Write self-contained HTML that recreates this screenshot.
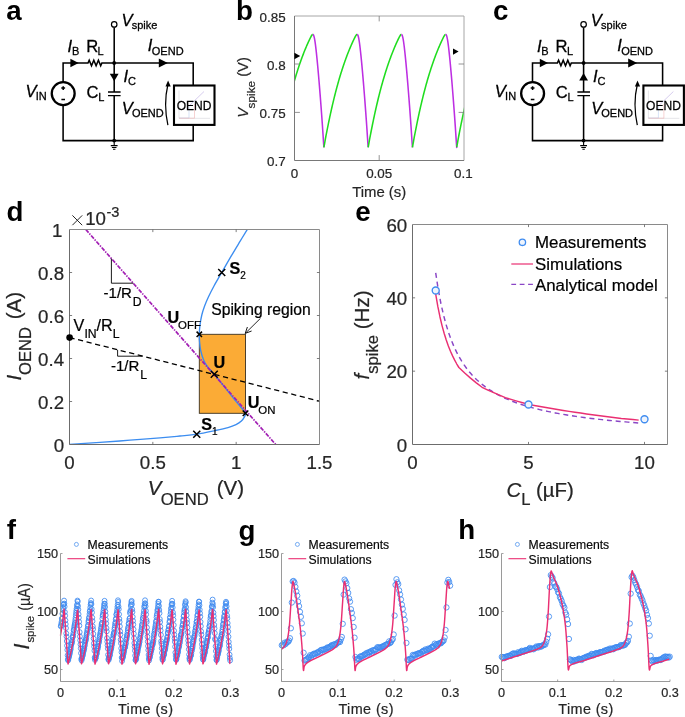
<!DOCTYPE html>
<html><head><meta charset="utf-8"><title>figure</title>
<style>html,body{margin:0;padding:0;background:#fff;}svg{display:block;will-change:transform;}body{font-family:"Liberation Sans",sans-serif;}</style>
</head><body>
<svg width="685" height="717" viewBox="0 0 685 717">
<rect width="685" height="717" fill="#fff"/>
<text x="6.2" y="20" font-family="Liberation Sans, sans-serif" font-size="27.7" font-weight="bold" fill="#000">a</text>
<text x="236" y="19.6" font-family="Liberation Sans, sans-serif" font-size="27.7" font-weight="bold" fill="#000">b</text>
<text x="493" y="20.4" font-family="Liberation Sans, sans-serif" font-size="27.7" font-weight="bold" fill="#000">c</text>
<text x="6.6" y="220.6" font-family="Liberation Sans, sans-serif" font-size="27.7" font-weight="bold" fill="#000">d</text>
<text x="355.2" y="221.2" font-family="Liberation Sans, sans-serif" font-size="27.7" font-weight="bold" fill="#000">e</text>
<text x="6.8" y="539.4" font-family="Liberation Sans, sans-serif" font-size="27.7" font-weight="bold" fill="#000">f</text>
<text x="238.6" y="539.8" font-family="Liberation Sans, sans-serif" font-size="27.7" font-weight="bold" fill="#000">g</text>
<text x="458.2" y="539.4" font-family="Liberation Sans, sans-serif" font-size="27.7" font-weight="bold" fill="#000">h</text>
<g transform="translate(0,0)" stroke="#000" fill="none" stroke-width="1.55" stroke-linejoin="miter">
<path d="M63.1,82 V63 H88 l1.2,-2.8 l2.3,5.6 l2.3,-5.6 l2.3,5.6 l2.3,-5.6 l2.3,5.6 l1.2,-2.8 H193.2 V85.5 M193.2,125 V140.6 H63.1 V105"/>
<path d="M114.2,27.2 V92 M114.2,95.7 V140.6"/>
<path d="M108,92 H120.6 M108,95.7 H120.6" stroke-width="1.3"/>
<circle cx="114.2" cy="63" r="1.9" fill="#000" stroke="none"/>
<circle cx="114.2" cy="140.6" r="1.9" fill="#000" stroke="none"/>
<circle cx="114.2" cy="24.4" r="2.75" fill="#fff" stroke-width="1.2"/>
<path d="M114.2,140.6 V145.4 M110.8,145.6 H117.6 M111.9,147.5 H116.5 M113,149.2 H115.4" stroke-width="1.1"/>
<circle cx="63.2" cy="93.6" r="11.45" stroke-width="2.3" fill="#fff"/>
<path d="M61.3,88.1 H65.1 M63.2,86.2 V90 M61.4,99.4 H65" stroke-width="1.5"/>
<path d="M70.4,58.8 L78.6,63 L70.4,67.2 Z" fill="#000" stroke="none"/>
<path d="M158.8,58.6 L167.8,63 L158.8,67.4 Z" fill="#000" stroke="none"/>
<path d="M109.8,73.8 L118.6,73.8 L114.2,81.2 Z" fill="#000" stroke="none"/>
<rect x="174" y="85.5" width="40.5" height="39.4" stroke-width="2.1" fill="#fff"/>
<path d="M179,90.5 V118.3 H210" stroke="#d4d4d8" stroke-width="0.6"/>
<path d="M179,118 H189 V106" stroke="#bcd0f2" stroke-width="0.6"/>
<path d="M179,118.2 H194.5 V104" stroke="#f0b4b4" stroke-width="0.6"/>
<path d="M189,106 L204,91.5" stroke="#c4b6e6" stroke-width="0.7"/>
<path d="M167.9,125.2 Q163.3,104 167.9,84.5" stroke-width="1.25"/>
<path d="M165.5,86.4 L168.1,80.6 L170.7,86.4 Z" fill="#000" stroke="none"/>
</g>
<g transform="translate(0,0)" font-family="Liberation Sans, sans-serif" fill="#000" stroke="#000" stroke-width="0.28">
<text x="121.4" y="26" font-size="16.6"><tspan font-style="italic">V</tspan><tspan font-size="11" dy="3.2" dx="-0.8">spike</tspan></text>
<text x="67.6" y="52.2" font-size="16.6"><tspan font-style="italic">I</tspan><tspan font-size="11" dy="3.2" dx="-0.3">B</tspan></text>
<text x="86.2" y="52.2" font-size="16.6"><tspan>R</tspan><tspan font-size="11" dy="3.2" dx="-0.6">L</tspan></text>
<text x="147.8" y="51.4" font-size="16.6"><tspan font-style="italic">I</tspan><tspan font-size="11" dy="3.2" dx="-0.6">OEND</tspan></text>
<text x="123.6" y="81.8" font-size="16.6"><tspan font-style="italic">I</tspan><tspan font-size="11" dy="3.2" dx="-0.2">C</tspan></text>
<text x="25.4" y="96.8" font-size="16.6"><tspan font-style="italic">V</tspan><tspan font-size="11" dy="3.2" dx="-0.8">IN</tspan></text>
<text x="86.4" y="97.6" font-size="16.6"><tspan>C</tspan><tspan font-size="11" dy="3.6" dx="-0.2">L</tspan></text>
<text x="121.8" y="114" font-size="16.6"><tspan font-style="italic">V</tspan><tspan font-size="11" dy="3.2" dx="-1">OEND</tspan></text>
<text x="194.1" y="109.7" font-size="13" text-anchor="middle" textLength="34.8" lengthAdjust="spacingAndGlyphs">OEND</text>
</g>
<g transform="translate(469.4,0)" stroke="#000" fill="none" stroke-width="1.55" stroke-linejoin="miter">
<path d="M63.1,82 V63 H88 l1.2,-2.8 l2.3,5.6 l2.3,-5.6 l2.3,5.6 l2.3,-5.6 l2.3,5.6 l1.2,-2.8 H193.2 V85.5 M193.2,125 V140.6 H63.1 V105"/>
<path d="M114.2,27.2 V92 M114.2,95.7 V140.6"/>
<path d="M108,92 H120.6 M108,95.7 H120.6" stroke-width="1.3"/>
<circle cx="114.2" cy="63" r="1.9" fill="#000" stroke="none"/>
<circle cx="114.2" cy="140.6" r="1.9" fill="#000" stroke="none"/>
<circle cx="114.2" cy="24.4" r="2.75" fill="#fff" stroke-width="1.2"/>
<path d="M114.2,140.6 V145.4 M110.8,145.6 H117.6 M111.9,147.5 H116.5 M113,149.2 H115.4" stroke-width="1.1"/>
<circle cx="63.2" cy="93.6" r="11.45" stroke-width="2.3" fill="#fff"/>
<path d="M61.3,88.1 H65.1 M63.2,86.2 V90 M61.4,99.4 H65" stroke-width="1.5"/>
<path d="M70.4,58.8 L78.6,63 L70.4,67.2 Z" fill="#000" stroke="none"/>
<path d="M158.8,58.6 L167.8,63 L158.8,67.4 Z" fill="#000" stroke="none"/>
<path d="M109.8,80.6 L118.6,80.6 L114.2,73 Z" fill="#000" stroke="none"/>
<rect x="174" y="85.5" width="40.5" height="39.4" stroke-width="2.1" fill="#fff"/>
<path d="M179,90.5 V118.3 H210" stroke="#d4d4d8" stroke-width="0.6"/>
<path d="M179,118 H189 V106" stroke="#bcd0f2" stroke-width="0.6"/>
<path d="M179,118.2 H194.5 V104" stroke="#f0b4b4" stroke-width="0.6"/>
<path d="M189,106 L204,91.5" stroke="#c4b6e6" stroke-width="0.7"/>
<path d="M167.9,125.2 Q163.3,104 167.9,84.5" stroke-width="1.25"/>
<path d="M165.5,86.4 L168.1,80.6 L170.7,86.4 Z" fill="#000" stroke="none"/>
</g>
<g transform="translate(469.4,0)" font-family="Liberation Sans, sans-serif" fill="#000" stroke="#000" stroke-width="0.28">
<text x="121.4" y="26" font-size="16.6"><tspan font-style="italic">V</tspan><tspan font-size="11" dy="3.2" dx="-0.8">spike</tspan></text>
<text x="67.6" y="52.2" font-size="16.6"><tspan font-style="italic">I</tspan><tspan font-size="11" dy="3.2" dx="-0.3">B</tspan></text>
<text x="86.2" y="52.2" font-size="16.6"><tspan>R</tspan><tspan font-size="11" dy="3.2" dx="-0.6">L</tspan></text>
<text x="147.8" y="51.4" font-size="16.6"><tspan font-style="italic">I</tspan><tspan font-size="11" dy="3.2" dx="-0.6">OEND</tspan></text>
<text x="123.6" y="81.8" font-size="16.6"><tspan font-style="italic">I</tspan><tspan font-size="11" dy="3.2" dx="-0.2">C</tspan></text>
<text x="25.4" y="96.8" font-size="16.6"><tspan font-style="italic">V</tspan><tspan font-size="11" dy="3.2" dx="-0.8">IN</tspan></text>
<text x="86.4" y="97.6" font-size="16.6"><tspan>C</tspan><tspan font-size="11" dy="3.6" dx="-0.2">L</tspan></text>
<text x="121.8" y="114" font-size="16.6"><tspan font-style="italic">V</tspan><tspan font-size="11" dy="3.2" dx="-1">OEND</tspan></text>
<text x="194.1" y="109.7" font-size="13" text-anchor="middle" textLength="34.8" lengthAdjust="spacingAndGlyphs">OEND</text>
</g>
<g fill="none">
<clipPath id="cb"><rect x="294.5" y="16" width="169.5" height="144.5"/></clipPath>
<g clip-path="url(#cb)" stroke-width="1.55" stroke-linejoin="round" stroke-linecap="butt">
<path d="M282.5,89.11 L282.8,90.5 L283.1,93.79 L283.4,98.2 L283.7,103.65 L284,109.28 L284.3,113.11 L284.6,115.37 L284.9,116.41 L285.1,116.57" stroke="#bd2ee2"/>
<path d="M285.1,116.57 L285.4,116.25 L285.7,115.48 L286,114.42 L286.3,113.22 L286.6,111.93 L286.9,110.62 L287.2,109.3 L287.5,107.98 L287.8,106.67 L288.1,105.37 L288.4,104.08 L288.7,102.81 L289,101.55 L289.3,100.3 L289.6,99.07 L289.9,97.84 L290.2,96.63 L290.5,95.44 L290.8,94.25 L291.1,93.08 L291.4,91.91 L291.7,90.76 L292,89.62 L292.3,88.5 L292.6,87.38 L292.9,86.27 L293.2,85.18 L293.5,84.1 L293.8,83.02 L294.1,81.96 L294.4,80.91 L294.7,79.87 L295,78.84 L295.3,77.82 L295.6,76.81 L295.9,75.81 L296.2,74.82 L296.5,73.85 L296.8,72.88 L297.1,71.92 L297.4,70.97 L297.7,70.03 L298,69.1 L298.3,68.17 L298.6,67.26 L298.9,66.36 L299.2,65.46 L299.5,64.58 L299.8,63.7 L300.1,62.83 L300.4,61.98 L300.7,61.13 L301,60.28 L301.3,59.45 L301.6,58.63 L301.9,57.81 L302.2,57 L302.5,56.2 L302.8,55.41 L303.1,54.62 L303.4,53.85 L303.7,53.08 L304,52.32 L304.3,51.56 L304.6,50.82 L304.9,50.08 L305.2,49.35 L305.5,48.63 L305.8,47.91 L306.1,47.2 L306.4,46.5 L306.7,45.8 L307,45.12 L307.3,44.43 L307.6,43.76 L307.9,43.09 L308.2,42.43 L308.5,41.78 L308.8,41.13 L309.1,40.49 L309.4,39.86 L309.7,39.23 L310,38.61 L310.3,38 L310.6,37.4 L310.9,36.81 L311.2,36.25 L311.5,35.73 L311.8,35.25 L312.1,34.86 L312.4,34.57 L312.7,34.43 L312.8,34.42" stroke="#1fdd1f"/>
<path d="M312.8,34.42 L313.1,34.53 L313.4,34.88 L313.7,35.5 L314,36.41 L314.3,37.61 L314.6,39.11 L314.9,40.89 L315.2,42.92 L315.5,45.16 L315.8,47.6 L316.1,50.2 L316.4,52.94 L316.7,55.8 L317,58.76 L317.3,61.83 L317.6,64.99 L317.9,68.24 L318.2,71.56 L318.5,74.97 L318.8,78.46 L319.1,82.03 L319.4,85.67 L319.7,89.38 L320,93.14 L320.3,96.93 L320.6,100.79 L320.9,104.7 L321.2,108.68 L321.5,112.71 L321.8,116.8 L322.1,120.97 L322.4,125.25 L322.7,129.7 L323,134.28 L323.3,138.82 L323.6,143.41 L323.9,147.43" stroke="#bd2ee2"/>
<path d="M323.9,147.43 L324.2,145.72 L324.5,144.03 L324.8,142.36 L325.1,140.54 L325.4,138.84 L325.7,137.24 L326,135.7 L326.3,134.18 L326.6,132.66 L326.9,131.15 L327.2,129.64 L327.5,128.13 L327.8,126.64 L328.1,125.15 L328.4,123.66 L328.7,122.19 L329,120.74 L329.3,119.3 L329.6,117.87 L329.9,116.46 L330.2,115.06 L330.5,113.68 L330.8,112.31 L331.1,110.96 L331.4,109.61 L331.7,108.29 L332,106.97 L332.3,105.67 L332.6,104.38 L332.9,103.11 L333.2,101.84 L333.5,100.59 L333.8,99.35 L334.1,98.13 L334.4,96.92 L334.7,95.71 L335,94.53 L335.3,93.35 L335.6,92.18 L335.9,91.03 L336.2,89.89 L336.5,88.76 L336.8,87.64 L337.1,86.53 L337.4,85.43 L337.7,84.35 L338,83.27 L338.3,82.21 L338.6,81.16 L338.9,80.11 L339.2,79.08 L339.5,78.06 L339.8,77.05 L340.1,76.05 L340.4,75.05 L340.7,74.07 L341,73.1 L341.3,72.14 L341.6,71.19 L341.9,70.24 L342.2,69.31 L342.5,68.39 L342.8,67.47 L343.1,66.57 L343.4,65.67 L343.7,64.78 L344,63.91 L344.3,63.04 L344.6,62.18 L344.9,61.32 L345.2,60.48 L345.5,59.64 L345.8,58.82 L346.1,58 L346.4,57.19 L346.7,56.39 L347,55.59 L347.3,54.81 L347.6,54.03 L347.9,53.26 L348.2,52.49 L348.5,51.74 L348.8,50.99 L349.1,50.25 L349.4,49.52 L349.7,48.79 L350,48.08 L350.3,47.37 L350.6,46.66 L350.9,45.97 L351.2,45.28 L351.5,44.59 L351.8,43.92 L352.1,43.25 L352.4,42.59 L352.7,41.93 L353,41.28 L353.3,40.64 L353.6,40 L353.9,39.37 L354.2,38.75 L354.5,38.14 L354.8,37.54 L355.1,36.95 L355.4,36.38 L355.7,35.84 L356,35.36 L356.3,34.94 L356.6,34.62 L356.9,34.44 L357.1,34.42" stroke="#1fdd1f"/>
<path d="M357.1,34.42 L357.4,34.55 L357.7,34.93 L358,35.58 L358.3,36.52 L358.6,37.75 L358.9,39.28 L359.2,41.08 L359.5,43.13 L359.8,45.4 L360.1,47.85 L360.4,50.47 L360.7,53.22 L361,56.09 L361.3,59.07 L361.6,62.14 L361.9,65.31 L362.2,68.56 L362.5,71.9 L362.8,75.32 L363.1,78.81 L363.4,82.39 L363.7,86.03 L364,89.76 L364.3,93.51 L364.6,97.31 L364.9,101.17 L365.2,105.1 L365.5,109.08 L365.8,113.12 L366.1,117.22 L366.4,121.39 L366.7,125.69 L367,130.16 L367.3,134.74 L367.6,139.27 L367.9,143.87 L368.2,147.26" stroke="#bd2ee2"/>
<path d="M368.2,147.26 L368.5,145.55 L368.8,143.86 L369.1,142.19 L369.4,140.36 L369.7,138.67 L370,137.09 L370.3,135.55 L370.6,134.03 L370.9,132.51 L371.2,131 L371.5,129.49 L371.8,127.98 L372.1,126.49 L372.4,125 L372.7,123.51 L373,122.05 L373.3,120.59 L373.6,119.16 L373.9,117.73 L374.2,116.32 L374.5,114.93 L374.8,113.54 L375.1,112.18 L375.4,110.82 L375.7,109.48 L376,108.15 L376.3,106.84 L376.6,105.54 L376.9,104.25 L377.2,102.98 L377.5,101.72 L377.8,100.47 L378.1,99.23 L378.4,98.01 L378.7,96.79 L379,95.59 L379.3,94.41 L379.6,93.23 L379.9,92.07 L380.2,90.92 L380.5,89.77 L380.8,88.65 L381.1,87.53 L381.4,86.42 L381.7,85.33 L382,84.24 L382.3,83.17 L382.6,82.1 L382.9,81.05 L383.2,80.01 L383.5,78.98 L383.8,77.96 L384.1,76.95 L384.4,75.95 L384.7,74.96 L385,73.98 L385.3,73.01 L385.6,72.04 L385.9,71.09 L386.2,70.15 L386.5,69.22 L386.8,68.3 L387.1,67.38 L387.4,66.48 L387.7,65.58 L388,64.7 L388.3,63.82 L388.6,62.95 L388.9,62.09 L389.2,61.24 L389.5,60.4 L389.8,59.56 L390.1,58.73 L390.4,57.92 L390.7,57.11 L391,56.31 L391.3,55.51 L391.6,54.73 L391.9,53.95 L392.2,53.18 L392.5,52.42 L392.8,51.66 L393.1,50.92 L393.4,50.18 L393.7,49.45 L394,48.72 L394.3,48 L394.6,47.29 L394.9,46.59 L395.2,45.9 L395.5,45.21 L395.8,44.53 L396.1,43.85 L396.4,43.18 L396.7,42.52 L397,41.87 L397.3,41.22 L397.6,40.58 L397.9,39.94 L398.2,39.31 L398.5,38.69 L398.8,38.08 L399.1,37.48 L399.4,36.89 L399.7,36.32 L400,35.79 L400.3,35.31 L400.6,34.9 L400.9,34.6 L401.2,34.43 L401.35,34.42" stroke="#1fdd1f"/>
<path d="M401.35,34.42 L401.65,34.54 L401.95,34.9 L402.25,35.52 L402.55,36.44 L402.85,37.66 L403.15,39.17 L403.45,40.95 L403.75,42.99 L404.05,45.24 L404.35,47.68 L404.65,50.29 L404.95,53.03 L405.25,55.89 L405.55,58.87 L405.85,61.94 L406.15,65.1 L406.45,68.35 L406.75,71.68 L407.05,75.09 L407.35,78.58 L407.65,82.15 L407.95,85.79 L408.25,89.5 L408.55,93.26 L408.85,97.06 L409.15,100.91 L409.45,104.84 L409.75,108.81 L410.05,112.85 L410.35,116.94 L410.65,121.11 L410.95,125.39 L411.25,129.86 L411.55,134.43 L411.85,138.97 L412.15,143.57 L412.45,147.37" stroke="#bd2ee2"/>
<path d="M412.45,147.37 L412.75,145.66 L413.05,143.97 L413.35,142.3 L413.65,140.48 L413.95,138.78 L414.25,137.19 L414.55,135.65 L414.85,134.13 L415.15,132.61 L415.45,131.1 L415.75,129.59 L416.05,128.08 L416.35,126.59 L416.65,125.1 L416.95,123.61 L417.25,122.14 L417.55,120.69 L417.85,119.25 L418.15,117.83 L418.45,116.41 L418.75,115.02 L419.05,113.64 L419.35,112.27 L419.65,110.91 L419.95,109.57 L420.25,108.24 L420.55,106.93 L420.85,105.63 L421.15,104.34 L421.45,103.06 L421.75,101.8 L422.05,100.55 L422.35,99.31 L422.65,98.09 L422.95,96.88 L423.25,95.67 L423.55,94.49 L423.85,93.31 L424.15,92.14 L424.45,90.99 L424.75,89.85 L425.05,88.72 L425.35,87.6 L425.65,86.49 L425.95,85.4 L426.25,84.31 L426.55,83.24 L426.85,82.17 L427.15,81.12 L427.45,80.08 L427.75,79.05 L428.05,78.03 L428.35,77.01 L428.65,76.01 L428.95,75.02 L429.25,74.04 L429.55,73.07 L429.85,72.11 L430.15,71.16 L430.45,70.21 L430.75,69.28 L431.05,68.36 L431.35,67.44 L431.65,66.54 L431.95,65.64 L432.25,64.75 L432.55,63.88 L432.85,63.01 L433.15,62.15 L433.45,61.29 L433.75,60.45 L434.05,59.62 L434.35,58.79 L434.65,57.97 L434.95,57.16 L435.25,56.36 L435.55,55.57 L435.85,54.78 L436.15,54 L436.45,53.23 L436.75,52.47 L437.05,51.71 L437.35,50.97 L437.65,50.23 L437.95,49.5 L438.25,48.77 L438.55,48.05 L438.85,47.34 L439.15,46.64 L439.45,45.94 L439.75,45.25 L440.05,44.57 L440.35,43.9 L440.65,43.23 L440.95,42.56 L441.25,41.91 L441.55,41.26 L441.85,40.62 L442.15,39.98 L442.45,39.35 L442.75,38.73 L443.05,38.12 L443.35,37.52 L443.65,36.93 L443.95,36.36 L444.25,35.83 L444.55,35.34 L444.85,34.93 L445.15,34.62 L445.45,34.44 L445.6,34.42" stroke="#1fdd1f"/>
<path d="M445.6,34.42 L445.9,34.52 L446.2,34.86 L446.5,35.47 L446.8,36.37 L447.1,37.57 L447.4,39.06 L447.7,40.83 L448,42.84 L448.3,45.08 L448.6,47.51 L448.9,50.11 L449.2,52.84 L449.5,55.7 L449.8,58.66 L450.1,61.73 L450.4,64.88 L450.7,68.13 L451,71.45 L451.3,74.86 L451.6,78.34 L451.9,81.91 L452.2,85.54 L452.5,89.26 L452.8,93.01 L453.1,96.8 L453.4,100.66 L453.7,104.57 L454,108.55 L454.3,112.58 L454.6,116.67 L454.9,120.83 L455.2,125.1 L455.5,129.55 L455.8,134.13 L456.1,138.66 L456.4,143.26 L456.7,147.49 L456.75,147.2" stroke="#bd2ee2"/>
<path d="M456.75,147.2 L457.05,145.49 L457.35,143.81 L457.65,142.13 L457.95,140.3 L458.25,138.62 L458.55,137.03 L458.85,135.5 L459.15,133.98 L459.45,132.46 L459.75,130.95 L460.05,129.44 L460.35,127.93 L460.65,126.44 L460.95,124.95 L461.25,123.47 L461.55,122 L461.85,120.55 L462.15,119.11 L462.45,117.68 L462.75,116.27 L463.05,114.88 L463.35,113.5 L463.65,112.13 L463.95,110.78 L464.25,109.44 L464.55,108.11 L464.85,106.8 L465.15,105.5 L465.45,104.21 L465.75,102.94 L466.05,101.67 L466.35,100.43 L466.65,99.19 L466.95,97.97 L467.25,96.75 L467.55,95.56 L467.85,94.37 L468.15,93.19 L468.45,92.03 L468.75,90.88 L469.05,89.74 L469.35,88.61 L469.65,87.49 L469.95,86.38 L470.25,85.29 L470.55,84.2 L470.85,83.13 L471.15,82.07 L471.45,81.01 L471.75,79.95 L472.05,78.89 L472.35,77.8 L472.65,76.66 L472.95,75.41 L473.25,73.97 L473.55,72.25 L473.85,70.09 L474.15,67.35 L474.45,63.89 L474.75,59.6 L475.05,54.45 L475.35,48.54 L475.65,42.04 L475.95,35.25" stroke="#1fdd1f"/>
</g>
<path d="M294.5,16 H464 V160.5" stroke="#a6a6a6" stroke-width="1"/>
<path d="M294.5,16 V160.5 H464" stroke="#787878" stroke-width="1"/>
<path d="M294.5,64 h5.4 M464,64 h-5.4 M294.5,112.4 h5.4 M464,112.4 h-5.4 M379.2,16 v5.4 M379.2,160.5 v-5.4" stroke="#7a7a7a" stroke-width="0.8"/>
<path d="M294.4,52.8 L300.2,56 L294.4,59.2 Z" fill="#000"/>
<path d="M453,48.4 L458.6,51.6 L453,54.8 Z" fill="#000"/>
</g>
<g font-family="Liberation Sans, sans-serif" fill="#262626" stroke="#262626" stroke-width="0.2" font-size="13.4">
<text x="285.6" y="21.8" text-anchor="end">0.85</text>
<text x="285.6" y="69.8" text-anchor="end">0.8</text>
<text x="285.6" y="118.2" text-anchor="end">0.75</text>
<text x="285.6" y="166" text-anchor="end">0.7</text>
<text x="294.4" y="178.2" text-anchor="middle">0</text>
<text x="379.2" y="178.2" text-anchor="middle">0.05</text>
<text x="463.4" y="178.2" text-anchor="middle">0.1</text>
<text x="379.2" y="197.4" text-anchor="middle" font-size="14.9">Time (s)</text>
<text transform="translate(248,117.8) rotate(-90)" font-size="14.7"><tspan font-style="italic">V</tspan><tspan font-size="11.8" dy="7" dx="-0.4">spike</tspan><tspan dy="-7"> (V)</tspan></text>
</g>
<g fill="none">
<rect x="199.3" y="334.3" width="46.2" height="79" fill="#fbab36" stroke="#3a3020" stroke-width="0.9"/>
<path d="M69.5,444.4 C74.58,444.07 89.92,443.1 100,442.4 C110.08,441.7 120,440.97 130,440.2 C140,439.43 151.67,438.5 160,437.8 C168.33,437.1 173.88,436.6 180,436 C186.12,435.4 190.92,435.1 196.75,434.2 C202.58,433.3 209.79,431.7 215,430.6 C220.21,429.5 224.5,428.6 228,427.6 C231.5,426.6 233.77,425.7 236,424.6 C238.23,423.5 239.97,422.33 241.4,421 C242.83,419.67 243.9,417.9 244.6,416.6 C245.3,415.3 245.77,414.23 245.6,413.2 C245.43,412.17 245.2,412.37 243.6,410.4 C242,408.43 239.1,405.2 236,401.4 C232.9,397.6 228.62,392.12 225,387.6 C221.38,383.08 217.08,377.62 214.25,374.25 C211.42,370.88 209.78,369.79 208,367.4 C206.22,365.01 204.82,362.72 203.6,359.9 C202.38,357.08 201.37,353.48 200.7,350.5 C200.03,347.52 199.83,344.7 199.6,342 C199.37,339.3 199.23,337.13 199.3,334.3 C199.37,331.47 199.58,328.22 200,325 C200.42,321.78 201.03,318.17 201.8,315 C202.57,311.83 203.5,309 204.6,306 C205.7,303 206.83,300.33 208.4,297 C209.97,293.67 211.78,290.08 214,286 C216.22,281.92 218.92,277.43 221.75,272.5 C224.58,267.57 227.96,261.58 231,256.4 C234.04,251.22 237.3,245.87 240,241.4 C242.7,236.93 246,231.57 247.2,229.6" stroke="#3c8df0" stroke-width="1.35"/>
<path d="M69.5,337.5 L319.5,401.2" stroke="#000" stroke-width="1.3" stroke-dasharray="5.2 3.6"/>
<path d="M85.8,229.5 L275.7,444.5" stroke="#a21fb4" stroke-width="1.7" stroke-dasharray="4.2 1.2 1.4 1.2"/>
<path d="M111.4,258.6 V283.2 H133.4 M117.6,350 V356.2 H142.4" stroke="#000" stroke-width="0.9"/>
<path d="M69.5,229.5 H319.5 V444.5" stroke="#8a8a8a" stroke-width="1"/>
<path d="M69.5,229.5 V444.5 H319.5" stroke="#6c6c6c" stroke-width="1"/>
<path d="M69.5,401.5 h2.6 M319.5,401.5 h-2.6 M69.5,358.5 h2.6 M319.5,358.5 h-2.6 M69.5,315.5 h2.6 M319.5,315.5 h-2.6 M69.5,272.5 h2.6 M319.5,272.5 h-2.6 M152.83,229.5 v2.6 M152.83,444.5 v-2.6 M236.17,229.5 v2.6 M236.17,444.5 v-2.6" stroke="#5e5e5e" stroke-width="0.8"/>
<path d="M218.25,269 l7,7 M218.25,276 l7,-7 M196.6,331.6 l5.4,5.4 M196.6,337 l5.4,-5.4 M210.75,370.75 l7,7 M210.75,377.75 l7,-7 M242.7,410.45 l5.6,5.6 M242.7,416.05 l5.6,-5.6 M193.25,430.75 l7,7 M193.25,437.75 l7,-7" stroke="#000" stroke-width="1.5"/>
<circle cx="69.6" cy="337.6" r="3.3" fill="#000"/>
<path d="M260.4,318.4 L245.6,333" stroke="#000" stroke-width="0.85"/>
<path d="M247.4,327 L245.2,333.4 L251.6,331" stroke="#000" stroke-width="0.9" fill="none"/>
</g>
<g font-family="Liberation Sans, sans-serif" fill="#262626" stroke="#262626" stroke-width="0.22" font-size="18.7">
<text x="64.1" y="452.2" text-anchor="end">0</text>
<text x="64.1" y="409.2" text-anchor="end">0.2</text>
<text x="64.1" y="366.2" text-anchor="end">0.4</text>
<text x="64.1" y="323.2" text-anchor="end">0.6</text>
<text x="64.1" y="280.2" text-anchor="end">0.8</text>
<text x="62.4" y="237.2" text-anchor="end">1</text>
<text x="69.5" y="469.2" text-anchor="middle">0</text>
<text x="152.83" y="469.2" text-anchor="middle">0.5</text>
<text x="236.17" y="469.2" text-anchor="middle">1</text>
<text x="319.5" y="469.2" text-anchor="middle">1.5</text>
<path d="M72.4,215.4 L82.2,225.2 M72.4,225.2 L82.2,215.4" stroke="#262626" stroke-width="1" fill="none"/>
<text x="85.2" y="225.2" font-size="18.7">10<tspan font-size="14.6" dy="-8.6" dx="0.4">-3</tspan></text>
<text x="147.8" y="495" font-size="20.5"><tspan font-style="italic">V</tspan><tspan font-size="16.6" dy="10.4" dx="-0.8">OEND</tspan><tspan dy="-10.4" dx="2.4"> (V)</tspan></text>
<text transform="translate(21,380.4) rotate(-90)" font-size="20.5"><tspan font-style="italic">I</tspan><tspan font-size="16.6" dy="10.4" dx="-0.2">OEND</tspan><tspan dy="-10.4" dx="2"> (A)</tspan></text>
</g>
<g font-family="Liberation Sans, sans-serif" fill="#000" stroke="#000" stroke-width="0.22">
<text x="211.2" y="314.6" font-size="15.7">Spiking region</text>
<text x="103.6" y="298.4" font-size="15">-1/R<tspan font-size="12.2" dy="7.6" dx="0.8">D</tspan></text>
<text x="111" y="371" font-size="15">-1/R<tspan font-size="12.2" dy="7.8" dx="0.8">L</tspan></text>
<text x="73.6" y="331.2" font-size="16.2">V<tspan font-size="12.2" dy="7">IN</tspan><tspan dy="-7">/R</tspan><tspan font-size="12.2" dy="7">L</tspan></text>
<text x="229.4" y="273.8" font-size="16.2"><tspan font-weight="bold">S</tspan><tspan font-size="10" dy="5" dx="0">2</tspan></text>
<text x="167.4" y="322.6" font-size="16.2"><tspan font-weight="bold">U</tspan><tspan font-size="11.4" dy="6.6" dx="-1">OFF</tspan></text>
<text x="213.6" y="368.4" font-size="16.2"><tspan font-weight="bold">U</tspan><tspan font-size="11.4" dy="6.6" dx="0"></tspan></text>
<text x="247.8" y="408" font-size="16.2"><tspan font-weight="bold">U</tspan><tspan font-size="11.4" dy="5.8" dx="-1.2">ON</tspan></text>
<text x="201.2" y="429.6" font-size="16.2"><tspan font-weight="bold">S</tspan><tspan font-size="10" dy="5.4" dx="0">1</tspan></text>
</g>
<g fill="none">
<path d="M435.7,272.9 L438.3,289.74 L440.9,303.5 L443.5,314.96 L446.1,324.64 L448.69,332.93 L451.29,340.11 L453.89,346.39 L456.49,351.92 L459.09,356.84 L461.69,361.24 L464.29,365.2 L466.89,368.78 L469.49,372.03 L472.09,375 L474.68,377.72 L477.28,380.22 L479.88,382.53 L482.48,384.67 L485.08,386.66 L487.68,388.5 L490.28,390.23 L492.88,391.84 L495.48,393.35 L498.08,394.77 L500.67,396.11 L503.27,397.37 L505.87,398.56 L508.47,399.68 L511.07,400.75 L513.67,401.76 L516.27,402.72 L518.87,403.63 L521.47,404.5 L524.07,405.33 L526.66,406.12 L529.26,406.88 L531.86,407.6 L534.46,408.29 L537.06,408.96 L539.66,409.59 L542.26,410.21 L544.86,410.79 L547.46,411.36 L550.06,411.9 L552.65,412.42 L555.25,412.93 L557.85,413.41 L560.45,413.88 L563.05,414.33 L565.65,414.77 L568.25,415.19 L570.85,415.6 L573.45,416 L576.05,416.38 L578.64,416.75 L581.24,417.11 L583.84,417.46 L586.44,417.8 L589.04,418.13 L591.64,418.45 L594.24,418.76 L596.84,419.06 L599.44,419.35 L602.04,419.63 L604.63,419.91 L607.23,420.18 L609.83,420.44 L612.43,420.7 L615.03,420.95 L617.63,421.19 L620.23,421.43 L622.83,421.66 L625.43,421.88 L628.03,422.1 L630.62,422.32 L633.22,422.53 L635.82,422.73 L638.42,422.93 L641.02,423.13" stroke="#8a46c6" stroke-width="1.45" stroke-dasharray="5 3.8"/>
<path d="M435.7,294.17 L437.81,306.39 L439.92,316.73 L442.03,325.6 L444.14,333.28 L446.25,340 L448.35,345.93 L450.46,351.2 L452.57,355.92 L454.68,360.17 L456.79,364.01 L458.9,367.5 L464.7,373.03 L470.5,378.09 L476.3,382.82 L482.1,387.3 L487.9,390.07 L493.7,392.69 L499.5,395.18 L505.3,397.57 L511.1,399.37 L516.9,401.09 L522.7,402.75 L528.5,404.35 L534.3,405.46 L540.1,406.53 L545.9,407.56 L551.7,408.57 L557.5,409.52 L563.3,410.45 L569.1,411.35 L574.9,412.23 L580.7,413.09 L586.5,413.92 L592.3,414.74 L598.1,415.53 L603.9,416.29 L609.7,417.03 L615.5,417.76 L621.3,418.47 L627.1,419.03 L632.9,419.59 L638.7,420.13" stroke="#ea2f72" stroke-width="1.45" stroke-linejoin="round"/>
<path d="M412.5,224.5 H667.5 V444.5" stroke="#8a8a8a" stroke-width="1"/>
<path d="M412.5,224.5 V444.5 H667.5" stroke="#6c6c6c" stroke-width="1"/>
<path d="M412.5,371.17 h2.6 M667.5,371.17 h-2.6 M412.5,297.83 h2.6 M667.5,297.83 h-2.6 M528.5,224.5 v2.6 M528.5,444.5 v-2.6 M644.5,224.5 v2.6 M644.5,444.5 v-2.6" stroke="#5e5e5e" stroke-width="0.8"/>
<circle cx="435.7" cy="290.5" r="3.5" fill="#eef4fd" stroke="#3f8cf0" stroke-width="1.35"/>
<circle cx="528.5" cy="404.53" r="3.5" fill="#eef4fd" stroke="#3f8cf0" stroke-width="1.35"/>
<circle cx="644.5" cy="419.2" r="3.5" fill="#eef4fd" stroke="#3f8cf0" stroke-width="1.35"/>
<circle cx="522.4" cy="242.3" r="3.2" fill="#eef4fd" stroke="#3f8cf0" stroke-width="1.3"/>
<path d="M511.3,264 H533" stroke="#ea2f72" stroke-width="1.2"/>
<path d="M511.3,284.3 H533" stroke="#8a46c6" stroke-width="1.3" stroke-dasharray="4.8 3.6"/>
</g>
<g font-family="Liberation Sans, sans-serif" fill="#262626" stroke="#262626" stroke-width="0.22" font-size="18.7">
<text x="407.2" y="451.6" text-anchor="end">0</text>
<text x="407.2" y="378.27" text-anchor="end">20</text>
<text x="407.2" y="304.93" text-anchor="end">40</text>
<text x="407.2" y="231.6" text-anchor="end">60</text>
<text x="412.5" y="468.8" text-anchor="middle">0</text>
<text x="528.5" y="468.8" text-anchor="middle">5</text>
<text x="644.5" y="468.8" text-anchor="middle">10</text>
<text x="506.4" y="496.8" font-size="20.4"><tspan font-style="italic">C</tspan><tspan font-size="16.6" dy="8.4">L</tspan><tspan dy="-8.4"> (µF)</tspan></text>
<text transform="translate(369.4,379.4) rotate(-90)" font-size="20.5"><tspan font-style="italic">f</tspan><tspan font-size="16.6" dy="9">spike</tspan><tspan dy="-9"> (Hz)</tspan></text>
</g>
<g font-family="Liberation Sans, sans-serif" fill="#000" stroke="#000" stroke-width="0.22" font-size="16.85">
<text x="535" y="248.3">Measurements</text>
<text x="535" y="269.9">Simulations</text>
<text x="535" y="291.4">Analytical model</text>
</g>
<g fill="none">
<g stroke="#3f8af0" stroke-width="0.85" fill="none"><circle cx="60.78" cy="626.26" r="2.45"/><circle cx="61.06" cy="625.63" r="2.45"/><circle cx="61.33" cy="623.61" r="2.45"/><circle cx="61.6" cy="621.89" r="2.45"/><circle cx="61.88" cy="618.68" r="2.45"/><circle cx="62.15" cy="618.38" r="2.45"/><circle cx="62.42" cy="613.83" r="2.45"/><circle cx="62.7" cy="613.03" r="2.45"/><circle cx="62.97" cy="610.09" r="2.45"/><circle cx="63.25" cy="608.04" r="2.45"/><circle cx="63.52" cy="604.61" r="2.45"/><circle cx="63.79" cy="604.16" r="2.45"/><circle cx="64.07" cy="600.59" r="2.45"/><circle cx="64.34" cy="603.56" r="2.45"/><circle cx="64.61" cy="606.67" r="2.45"/><circle cx="64.89" cy="612.07" r="2.45"/><circle cx="65.16" cy="615.72" r="2.45"/><circle cx="65.43" cy="620.36" r="2.45"/><circle cx="65.71" cy="624.11" r="2.45"/><circle cx="65.98" cy="628.11" r="2.45"/><circle cx="66.25" cy="633.44" r="2.45"/><circle cx="66.53" cy="636.51" r="2.45"/><circle cx="66.8" cy="641.06" r="2.45"/><circle cx="67.08" cy="645.71" r="2.45"/><circle cx="67.35" cy="649.92" r="2.45"/><circle cx="67.62" cy="655.31" r="2.45"/><circle cx="67.9" cy="659.46" r="2.45"/><circle cx="68.17" cy="660.39" r="2.45"/><circle cx="68.44" cy="658.83" r="2.45"/><circle cx="68.72" cy="657.17" r="2.45"/><circle cx="68.99" cy="656.68" r="2.45"/><circle cx="69.26" cy="655.29" r="2.45"/><circle cx="69.54" cy="654.22" r="2.45"/><circle cx="69.81" cy="653.05" r="2.45"/><circle cx="70.08" cy="651.67" r="2.45"/><circle cx="70.36" cy="649.97" r="2.45"/><circle cx="70.63" cy="649.27" r="2.45"/><circle cx="70.9" cy="647.12" r="2.45"/><circle cx="71.18" cy="644.89" r="2.45"/><circle cx="71.45" cy="643.99" r="2.45"/><circle cx="71.73" cy="643.06" r="2.45"/><circle cx="72" cy="641.96" r="2.45"/><circle cx="72.27" cy="640.33" r="2.45"/><circle cx="72.55" cy="637.33" r="2.45"/><circle cx="72.82" cy="636.65" r="2.45"/><circle cx="73.09" cy="635.38" r="2.45"/><circle cx="73.37" cy="633.18" r="2.45"/><circle cx="73.64" cy="630.32" r="2.45"/><circle cx="73.91" cy="629.65" r="2.45"/><circle cx="74.19" cy="627.51" r="2.45"/><circle cx="74.46" cy="625.78" r="2.45"/><circle cx="74.73" cy="624.2" r="2.45"/><circle cx="75.01" cy="622.65" r="2.45"/><circle cx="75.28" cy="620.12" r="2.45"/><circle cx="75.56" cy="617.92" r="2.45"/><circle cx="75.83" cy="615.28" r="2.45"/><circle cx="76.1" cy="612.9" r="2.45"/><circle cx="76.38" cy="610.55" r="2.45"/><circle cx="76.65" cy="608.57" r="2.45"/><circle cx="76.92" cy="605.81" r="2.45"/><circle cx="77.2" cy="604.28" r="2.45"/><circle cx="77.47" cy="600.57" r="2.45"/><circle cx="77.74" cy="601.69" r="2.45"/><circle cx="78.02" cy="606.09" r="2.45"/><circle cx="78.29" cy="609.71" r="2.45"/><circle cx="78.56" cy="614.19" r="2.45"/><circle cx="78.84" cy="617.71" r="2.45"/><circle cx="79.11" cy="621.75" r="2.45"/><circle cx="79.39" cy="625.67" r="2.45"/><circle cx="79.66" cy="632.09" r="2.45"/><circle cx="79.93" cy="636.48" r="2.45"/><circle cx="80.21" cy="640.33" r="2.45"/><circle cx="80.48" cy="644.36" r="2.45"/><circle cx="80.75" cy="648.38" r="2.45"/><circle cx="81.03" cy="653.17" r="2.45"/><circle cx="81.3" cy="659" r="2.45"/><circle cx="81.57" cy="660.44" r="2.45"/><circle cx="81.85" cy="658.6" r="2.45"/><circle cx="82.12" cy="657.77" r="2.45"/><circle cx="82.39" cy="656.26" r="2.45"/><circle cx="82.67" cy="655.62" r="2.45"/><circle cx="82.94" cy="654.37" r="2.45"/><circle cx="83.22" cy="652.9" r="2.45"/><circle cx="83.49" cy="651.49" r="2.45"/><circle cx="83.76" cy="650.31" r="2.45"/><circle cx="84.04" cy="649.03" r="2.45"/><circle cx="84.31" cy="648.13" r="2.45"/><circle cx="84.58" cy="646.13" r="2.45"/><circle cx="84.86" cy="644.85" r="2.45"/><circle cx="85.13" cy="642.81" r="2.45"/><circle cx="85.4" cy="641.28" r="2.45"/><circle cx="85.68" cy="640.33" r="2.45"/><circle cx="85.95" cy="639.09" r="2.45"/><circle cx="86.22" cy="637.63" r="2.45"/><circle cx="86.5" cy="635.35" r="2.45"/><circle cx="86.77" cy="633.85" r="2.45"/><circle cx="87.04" cy="632.35" r="2.45"/><circle cx="87.32" cy="630.34" r="2.45"/><circle cx="87.59" cy="628.88" r="2.45"/><circle cx="87.87" cy="626.23" r="2.45"/><circle cx="88.14" cy="624.95" r="2.45"/><circle cx="88.41" cy="621.99" r="2.45"/><circle cx="88.69" cy="620.41" r="2.45"/><circle cx="88.96" cy="618.2" r="2.45"/><circle cx="89.23" cy="617.02" r="2.45"/><circle cx="89.51" cy="614.07" r="2.45"/><circle cx="89.78" cy="611.47" r="2.45"/><circle cx="90.05" cy="610.12" r="2.45"/><circle cx="90.33" cy="607.33" r="2.45"/><circle cx="90.6" cy="604.7" r="2.45"/><circle cx="90.87" cy="602.99" r="2.45"/><circle cx="91.15" cy="600.5" r="2.45"/><circle cx="91.42" cy="604.03" r="2.45"/><circle cx="91.7" cy="609.05" r="2.45"/><circle cx="91.97" cy="612.49" r="2.45"/><circle cx="92.24" cy="617.65" r="2.45"/><circle cx="92.52" cy="621.16" r="2.45"/><circle cx="92.79" cy="626.37" r="2.45"/><circle cx="93.06" cy="629.11" r="2.45"/><circle cx="93.34" cy="633.88" r="2.45"/><circle cx="93.61" cy="638.52" r="2.45"/><circle cx="93.88" cy="643.36" r="2.45"/><circle cx="94.16" cy="646.6" r="2.45"/><circle cx="94.43" cy="650.65" r="2.45"/><circle cx="94.7" cy="657.34" r="2.45"/><circle cx="94.98" cy="659.95" r="2.45"/><circle cx="95.25" cy="658.55" r="2.45"/><circle cx="95.53" cy="658.12" r="2.45"/><circle cx="95.8" cy="657.82" r="2.45"/><circle cx="96.07" cy="655.41" r="2.45"/><circle cx="96.35" cy="654.79" r="2.45"/><circle cx="96.62" cy="653.79" r="2.45"/><circle cx="96.89" cy="652.89" r="2.45"/><circle cx="97.17" cy="650.56" r="2.45"/><circle cx="97.44" cy="649.1" r="2.45"/><circle cx="97.71" cy="648.58" r="2.45"/><circle cx="97.99" cy="646.54" r="2.45"/><circle cx="98.26" cy="646.09" r="2.45"/><circle cx="98.53" cy="643.52" r="2.45"/><circle cx="98.81" cy="642.47" r="2.45"/><circle cx="99.08" cy="641.09" r="2.45"/><circle cx="99.36" cy="639.48" r="2.45"/><circle cx="99.63" cy="637.32" r="2.45"/><circle cx="99.9" cy="635.75" r="2.45"/><circle cx="100.18" cy="634.19" r="2.45"/><circle cx="100.45" cy="632.69" r="2.45"/><circle cx="100.72" cy="630.95" r="2.45"/><circle cx="101" cy="628.81" r="2.45"/><circle cx="101.27" cy="627.16" r="2.45"/><circle cx="101.54" cy="624.98" r="2.45"/><circle cx="101.82" cy="623.58" r="2.45"/><circle cx="102.09" cy="622.78" r="2.45"/><circle cx="102.36" cy="618.68" r="2.45"/><circle cx="102.64" cy="615.88" r="2.45"/><circle cx="102.91" cy="614.7" r="2.45"/><circle cx="103.18" cy="612.76" r="2.45"/><circle cx="103.46" cy="610.47" r="2.45"/><circle cx="103.73" cy="608.08" r="2.45"/><circle cx="104.01" cy="605.57" r="2.45"/><circle cx="104.28" cy="603.73" r="2.45"/><circle cx="104.55" cy="600.82" r="2.45"/><circle cx="104.83" cy="603.72" r="2.45"/><circle cx="105.1" cy="606.99" r="2.45"/><circle cx="105.37" cy="611.41" r="2.45"/><circle cx="105.65" cy="615.13" r="2.45"/><circle cx="105.92" cy="619.75" r="2.45"/><circle cx="106.19" cy="623.36" r="2.45"/><circle cx="106.47" cy="628.12" r="2.45"/><circle cx="106.74" cy="631.32" r="2.45"/><circle cx="107.01" cy="638.07" r="2.45"/><circle cx="107.29" cy="641.74" r="2.45"/><circle cx="107.56" cy="645.27" r="2.45"/><circle cx="107.84" cy="648.77" r="2.45"/><circle cx="108.11" cy="654.84" r="2.45"/><circle cx="108.38" cy="659.15" r="2.45"/><circle cx="108.66" cy="660.04" r="2.45"/><circle cx="108.93" cy="657.96" r="2.45"/><circle cx="109.2" cy="657.71" r="2.45"/><circle cx="109.48" cy="655.94" r="2.45"/><circle cx="109.75" cy="655.3" r="2.45"/><circle cx="110.02" cy="654.62" r="2.45"/><circle cx="110.3" cy="652.44" r="2.45"/><circle cx="110.57" cy="651.05" r="2.45"/><circle cx="110.84" cy="649.28" r="2.45"/><circle cx="111.12" cy="648.75" r="2.45"/><circle cx="111.39" cy="647.68" r="2.45"/><circle cx="111.67" cy="645.6" r="2.45"/><circle cx="111.94" cy="644.35" r="2.45"/><circle cx="112.21" cy="642.86" r="2.45"/><circle cx="112.49" cy="641.56" r="2.45"/><circle cx="112.76" cy="639.3" r="2.45"/><circle cx="113.03" cy="638.17" r="2.45"/><circle cx="113.31" cy="635.66" r="2.45"/><circle cx="113.58" cy="634.45" r="2.45"/><circle cx="113.85" cy="633" r="2.45"/><circle cx="114.13" cy="632.56" r="2.45"/><circle cx="114.4" cy="629.46" r="2.45"/><circle cx="114.67" cy="627.71" r="2.45"/><circle cx="114.95" cy="625.58" r="2.45"/><circle cx="115.22" cy="623.49" r="2.45"/><circle cx="115.5" cy="622.32" r="2.45"/><circle cx="115.77" cy="619.54" r="2.45"/><circle cx="116.04" cy="618.23" r="2.45"/><circle cx="116.32" cy="614.59" r="2.45"/><circle cx="116.59" cy="614.27" r="2.45"/><circle cx="116.86" cy="612.22" r="2.45"/><circle cx="117.14" cy="609.81" r="2.45"/><circle cx="117.41" cy="606.95" r="2.45"/><circle cx="117.68" cy="604.61" r="2.45"/><circle cx="117.96" cy="600.29" r="2.45"/><circle cx="118.23" cy="601.99" r="2.45"/><circle cx="118.5" cy="606.5" r="2.45"/><circle cx="118.78" cy="609.15" r="2.45"/><circle cx="119.05" cy="614.29" r="2.45"/><circle cx="119.33" cy="618.88" r="2.45"/><circle cx="119.6" cy="621.92" r="2.45"/><circle cx="119.87" cy="626.37" r="2.45"/><circle cx="120.15" cy="631.32" r="2.45"/><circle cx="120.42" cy="634.62" r="2.45"/><circle cx="120.69" cy="639.75" r="2.45"/><circle cx="120.97" cy="643.31" r="2.45"/><circle cx="121.24" cy="648.39" r="2.45"/><circle cx="121.51" cy="652.23" r="2.45"/><circle cx="121.79" cy="657.55" r="2.45"/><circle cx="122.06" cy="661.02" r="2.45"/><circle cx="122.33" cy="657.72" r="2.45"/><circle cx="122.61" cy="658.27" r="2.45"/><circle cx="122.88" cy="656.87" r="2.45"/><circle cx="123.15" cy="655.95" r="2.45"/><circle cx="123.43" cy="654.43" r="2.45"/><circle cx="123.7" cy="652.92" r="2.45"/><circle cx="123.98" cy="651.67" r="2.45"/><circle cx="124.25" cy="650.11" r="2.45"/><circle cx="124.52" cy="648.12" r="2.45"/><circle cx="124.8" cy="647.87" r="2.45"/><circle cx="125.07" cy="647.13" r="2.45"/><circle cx="125.34" cy="645.68" r="2.45"/><circle cx="125.62" cy="643.92" r="2.45"/><circle cx="125.89" cy="643.02" r="2.45"/><circle cx="126.16" cy="640.04" r="2.45"/><circle cx="126.44" cy="639.23" r="2.45"/><circle cx="126.71" cy="637.51" r="2.45"/><circle cx="126.98" cy="635.68" r="2.45"/><circle cx="127.26" cy="634.79" r="2.45"/><circle cx="127.53" cy="632.74" r="2.45"/><circle cx="127.81" cy="630.06" r="2.45"/><circle cx="128.08" cy="628.25" r="2.45"/><circle cx="128.35" cy="626.98" r="2.45"/><circle cx="128.63" cy="623.73" r="2.45"/><circle cx="128.9" cy="623.55" r="2.45"/><circle cx="129.17" cy="620.95" r="2.45"/><circle cx="129.45" cy="618.78" r="2.45"/><circle cx="129.72" cy="618.11" r="2.45"/><circle cx="129.99" cy="613.16" r="2.45"/><circle cx="130.27" cy="611.8" r="2.45"/><circle cx="130.54" cy="610.29" r="2.45"/><circle cx="130.81" cy="606.1" r="2.45"/><circle cx="131.09" cy="604.5" r="2.45"/><circle cx="131.36" cy="602.07" r="2.45"/><circle cx="131.64" cy="600.86" r="2.45"/><circle cx="131.91" cy="604.27" r="2.45"/><circle cx="132.18" cy="609.25" r="2.45"/><circle cx="132.46" cy="612.03" r="2.45"/><circle cx="132.73" cy="616.9" r="2.45"/><circle cx="133" cy="620.86" r="2.45"/><circle cx="133.28" cy="624.53" r="2.45"/><circle cx="133.55" cy="629.39" r="2.45"/><circle cx="133.82" cy="633.76" r="2.45"/><circle cx="134.1" cy="638.13" r="2.45"/><circle cx="134.37" cy="643.12" r="2.45"/><circle cx="134.64" cy="646.64" r="2.45"/><circle cx="134.92" cy="650.68" r="2.45"/><circle cx="135.19" cy="655.6" r="2.45"/><circle cx="135.47" cy="660.02" r="2.45"/><circle cx="135.74" cy="660.06" r="2.45"/><circle cx="136.01" cy="658.87" r="2.45"/><circle cx="136.29" cy="658.01" r="2.45"/><circle cx="136.56" cy="655.26" r="2.45"/><circle cx="136.83" cy="654.9" r="2.45"/><circle cx="137.11" cy="652.69" r="2.45"/><circle cx="137.38" cy="652.69" r="2.45"/><circle cx="137.65" cy="651.2" r="2.45"/><circle cx="137.93" cy="649.57" r="2.45"/><circle cx="138.2" cy="647.75" r="2.45"/><circle cx="138.47" cy="646.87" r="2.45"/><circle cx="138.75" cy="645.37" r="2.45"/><circle cx="139.02" cy="644.04" r="2.45"/><circle cx="139.29" cy="642.47" r="2.45"/><circle cx="139.57" cy="641.7" r="2.45"/><circle cx="139.84" cy="639.45" r="2.45"/><circle cx="140.12" cy="638.01" r="2.45"/><circle cx="140.39" cy="636.3" r="2.45"/><circle cx="140.66" cy="634.29" r="2.45"/><circle cx="140.94" cy="633.25" r="2.45"/><circle cx="141.21" cy="631.13" r="2.45"/><circle cx="141.48" cy="629.43" r="2.45"/><circle cx="141.76" cy="627.15" r="2.45"/><circle cx="142.03" cy="625.01" r="2.45"/><circle cx="142.3" cy="624.05" r="2.45"/><circle cx="142.58" cy="621.13" r="2.45"/><circle cx="142.85" cy="618.19" r="2.45"/><circle cx="143.12" cy="618.11" r="2.45"/><circle cx="143.4" cy="615.54" r="2.45"/><circle cx="143.67" cy="613.32" r="2.45"/><circle cx="143.95" cy="610.66" r="2.45"/><circle cx="144.22" cy="607.19" r="2.45"/><circle cx="144.49" cy="605.69" r="2.45"/><circle cx="144.77" cy="603.61" r="2.45"/><circle cx="145.04" cy="600.29" r="2.45"/><circle cx="145.31" cy="603.31" r="2.45"/><circle cx="145.59" cy="606.29" r="2.45"/><circle cx="145.86" cy="610.86" r="2.45"/><circle cx="146.13" cy="614.41" r="2.45"/><circle cx="146.41" cy="619.83" r="2.45"/><circle cx="146.68" cy="621.96" r="2.45"/><circle cx="146.95" cy="627.56" r="2.45"/><circle cx="147.23" cy="632" r="2.45"/><circle cx="147.5" cy="636.79" r="2.45"/><circle cx="147.78" cy="641.58" r="2.45"/><circle cx="148.05" cy="646.08" r="2.45"/><circle cx="148.32" cy="650.1" r="2.45"/><circle cx="148.6" cy="654.94" r="2.45"/><circle cx="148.87" cy="658.8" r="2.45"/><circle cx="149.14" cy="660.44" r="2.45"/><circle cx="149.42" cy="658.42" r="2.45"/><circle cx="149.69" cy="657.04" r="2.45"/><circle cx="149.96" cy="656.81" r="2.45"/><circle cx="150.24" cy="654.49" r="2.45"/><circle cx="150.51" cy="654.08" r="2.45"/><circle cx="150.78" cy="652.01" r="2.45"/><circle cx="151.06" cy="651.15" r="2.45"/><circle cx="151.33" cy="649.44" r="2.45"/><circle cx="151.61" cy="649.33" r="2.45"/><circle cx="151.88" cy="647.45" r="2.45"/><circle cx="152.15" cy="645.15" r="2.45"/><circle cx="152.43" cy="644.92" r="2.45"/><circle cx="152.7" cy="644.27" r="2.45"/><circle cx="152.97" cy="642.71" r="2.45"/><circle cx="153.25" cy="641.5" r="2.45"/><circle cx="153.52" cy="639.69" r="2.45"/><circle cx="153.79" cy="637.08" r="2.45"/><circle cx="154.07" cy="634.43" r="2.45"/><circle cx="154.34" cy="633.72" r="2.45"/><circle cx="154.61" cy="631.52" r="2.45"/><circle cx="154.89" cy="629.96" r="2.45"/><circle cx="155.16" cy="628.04" r="2.45"/><circle cx="155.43" cy="626.24" r="2.45"/><circle cx="155.71" cy="624.29" r="2.45"/><circle cx="155.98" cy="621.91" r="2.45"/><circle cx="156.26" cy="620.8" r="2.45"/><circle cx="156.53" cy="617.42" r="2.45"/><circle cx="156.8" cy="615.3" r="2.45"/><circle cx="157.08" cy="613.72" r="2.45"/><circle cx="157.35" cy="610.85" r="2.45"/><circle cx="157.62" cy="609.37" r="2.45"/><circle cx="157.9" cy="606.87" r="2.45"/><circle cx="158.17" cy="603.99" r="2.45"/><circle cx="158.44" cy="601.66" r="2.45"/><circle cx="158.72" cy="601.88" r="2.45"/><circle cx="158.99" cy="605.92" r="2.45"/><circle cx="159.26" cy="609.92" r="2.45"/><circle cx="159.54" cy="613.2" r="2.45"/><circle cx="159.81" cy="619.09" r="2.45"/><circle cx="160.09" cy="622.02" r="2.45"/><circle cx="160.36" cy="626.66" r="2.45"/><circle cx="160.63" cy="630.44" r="2.45"/><circle cx="160.91" cy="634.93" r="2.45"/><circle cx="161.18" cy="641.23" r="2.45"/><circle cx="161.45" cy="643.69" r="2.45"/><circle cx="161.73" cy="648.28" r="2.45"/><circle cx="162" cy="652.91" r="2.45"/><circle cx="162.27" cy="657.67" r="2.45"/><circle cx="162.55" cy="659.88" r="2.45"/><circle cx="162.82" cy="659.44" r="2.45"/><circle cx="163.09" cy="656.95" r="2.45"/><circle cx="163.37" cy="656.49" r="2.45"/><circle cx="163.64" cy="654.37" r="2.45"/><circle cx="163.92" cy="654.83" r="2.45"/><circle cx="164.19" cy="654.14" r="2.45"/><circle cx="164.46" cy="651.44" r="2.45"/><circle cx="164.74" cy="650.06" r="2.45"/><circle cx="165.01" cy="649.2" r="2.45"/><circle cx="165.28" cy="648.76" r="2.45"/><circle cx="165.56" cy="646.74" r="2.45"/><circle cx="165.83" cy="644.7" r="2.45"/><circle cx="166.1" cy="643.72" r="2.45"/><circle cx="166.38" cy="642.18" r="2.45"/><circle cx="166.65" cy="640.69" r="2.45"/><circle cx="166.92" cy="639.56" r="2.45"/><circle cx="167.2" cy="637.72" r="2.45"/><circle cx="167.47" cy="636.59" r="2.45"/><circle cx="167.75" cy="633.04" r="2.45"/><circle cx="168.02" cy="632.6" r="2.45"/><circle cx="168.29" cy="630.26" r="2.45"/><circle cx="168.57" cy="629.29" r="2.45"/><circle cx="168.84" cy="626.35" r="2.45"/><circle cx="169.11" cy="625.96" r="2.45"/><circle cx="169.39" cy="622.35" r="2.45"/><circle cx="169.66" cy="620.87" r="2.45"/><circle cx="169.93" cy="617.53" r="2.45"/><circle cx="170.21" cy="617.36" r="2.45"/><circle cx="170.48" cy="614.34" r="2.45"/><circle cx="170.75" cy="611.91" r="2.45"/><circle cx="171.03" cy="609.08" r="2.45"/><circle cx="171.3" cy="607.65" r="2.45"/><circle cx="171.57" cy="604.9" r="2.45"/><circle cx="171.85" cy="603.68" r="2.45"/><circle cx="172.12" cy="600.82" r="2.45"/><circle cx="172.4" cy="603.88" r="2.45"/><circle cx="172.67" cy="607.52" r="2.45"/><circle cx="172.94" cy="612.45" r="2.45"/><circle cx="173.22" cy="615.29" r="2.45"/><circle cx="173.49" cy="619.71" r="2.45"/><circle cx="173.76" cy="625.05" r="2.45"/><circle cx="174.04" cy="630.74" r="2.45"/><circle cx="174.31" cy="634.73" r="2.45"/><circle cx="174.58" cy="638.53" r="2.45"/><circle cx="174.86" cy="641.84" r="2.45"/><circle cx="175.13" cy="646.73" r="2.45"/><circle cx="175.4" cy="652.58" r="2.45"/><circle cx="175.68" cy="655.96" r="2.45"/><circle cx="175.95" cy="659.38" r="2.45"/><circle cx="176.23" cy="659.83" r="2.45"/><circle cx="176.5" cy="658.86" r="2.45"/><circle cx="176.77" cy="656.04" r="2.45"/><circle cx="177.05" cy="656" r="2.45"/><circle cx="177.32" cy="655.09" r="2.45"/><circle cx="177.59" cy="653.36" r="2.45"/><circle cx="177.87" cy="652.29" r="2.45"/><circle cx="178.14" cy="651.26" r="2.45"/><circle cx="178.41" cy="648.99" r="2.45"/><circle cx="178.69" cy="647.7" r="2.45"/><circle cx="178.96" cy="646.48" r="2.45"/><circle cx="179.23" cy="645.62" r="2.45"/><circle cx="179.51" cy="643.46" r="2.45"/><circle cx="179.78" cy="642.67" r="2.45"/><circle cx="180.06" cy="640.86" r="2.45"/><circle cx="180.33" cy="638.97" r="2.45"/><circle cx="180.6" cy="637.51" r="2.45"/><circle cx="180.88" cy="635.3" r="2.45"/><circle cx="181.15" cy="634.4" r="2.45"/><circle cx="181.42" cy="633.91" r="2.45"/><circle cx="181.7" cy="631.84" r="2.45"/><circle cx="181.97" cy="628.56" r="2.45"/><circle cx="182.24" cy="627.67" r="2.45"/><circle cx="182.52" cy="625.34" r="2.45"/><circle cx="182.79" cy="624.08" r="2.45"/><circle cx="183.06" cy="620.99" r="2.45"/><circle cx="183.34" cy="619.71" r="2.45"/><circle cx="183.61" cy="616.51" r="2.45"/><circle cx="183.89" cy="615.48" r="2.45"/><circle cx="184.16" cy="612.27" r="2.45"/><circle cx="184.43" cy="610.22" r="2.45"/><circle cx="184.71" cy="608.66" r="2.45"/><circle cx="184.98" cy="605.18" r="2.45"/><circle cx="185.25" cy="603.85" r="2.45"/><circle cx="185.53" cy="601.25" r="2.45"/><circle cx="185.8" cy="602.35" r="2.45"/><circle cx="186.07" cy="607.11" r="2.45"/><circle cx="186.35" cy="611.18" r="2.45"/><circle cx="186.62" cy="615.21" r="2.45"/><circle cx="186.89" cy="619.82" r="2.45"/><circle cx="187.17" cy="622.91" r="2.45"/><circle cx="187.44" cy="627.48" r="2.45"/><circle cx="187.72" cy="632.21" r="2.45"/><circle cx="187.99" cy="636.61" r="2.45"/><circle cx="188.26" cy="640.68" r="2.45"/><circle cx="188.54" cy="644.34" r="2.45"/><circle cx="188.81" cy="649.3" r="2.45"/><circle cx="189.08" cy="654.56" r="2.45"/><circle cx="189.36" cy="658.29" r="2.45"/><circle cx="189.63" cy="660.09" r="2.45"/><circle cx="189.9" cy="658.96" r="2.45"/><circle cx="190.18" cy="656.57" r="2.45"/><circle cx="190.45" cy="656.7" r="2.45"/><circle cx="190.72" cy="655.51" r="2.45"/><circle cx="191" cy="655.13" r="2.45"/><circle cx="191.27" cy="653.56" r="2.45"/><circle cx="191.54" cy="651.2" r="2.45"/><circle cx="191.82" cy="650.56" r="2.45"/><circle cx="192.09" cy="648.52" r="2.45"/><circle cx="192.37" cy="648.1" r="2.45"/><circle cx="192.64" cy="646.5" r="2.45"/><circle cx="192.91" cy="644.24" r="2.45"/><circle cx="193.19" cy="642.32" r="2.45"/><circle cx="193.46" cy="641.32" r="2.45"/><circle cx="193.73" cy="639.43" r="2.45"/><circle cx="194.01" cy="637.55" r="2.45"/><circle cx="194.28" cy="636.32" r="2.45"/><circle cx="194.55" cy="635.79" r="2.45"/><circle cx="194.83" cy="633.61" r="2.45"/><circle cx="195.1" cy="631.42" r="2.45"/><circle cx="195.37" cy="630.23" r="2.45"/><circle cx="195.65" cy="627.87" r="2.45"/><circle cx="195.92" cy="627.15" r="2.45"/><circle cx="196.2" cy="624.76" r="2.45"/><circle cx="196.47" cy="621.97" r="2.45"/><circle cx="196.74" cy="621.52" r="2.45"/><circle cx="197.02" cy="618.75" r="2.45"/><circle cx="197.29" cy="615.95" r="2.45"/><circle cx="197.56" cy="614.71" r="2.45"/><circle cx="197.84" cy="611.39" r="2.45"/><circle cx="198.11" cy="609.54" r="2.45"/><circle cx="198.38" cy="606.84" r="2.45"/><circle cx="198.66" cy="604.35" r="2.45"/><circle cx="198.93" cy="601.56" r="2.45"/><circle cx="199.2" cy="601.77" r="2.45"/><circle cx="199.48" cy="605.29" r="2.45"/><circle cx="199.75" cy="609.75" r="2.45"/><circle cx="200.03" cy="613.22" r="2.45"/><circle cx="200.3" cy="616.78" r="2.45"/><circle cx="200.57" cy="621.9" r="2.45"/><circle cx="200.85" cy="626.22" r="2.45"/><circle cx="201.12" cy="631.33" r="2.45"/><circle cx="201.39" cy="634.61" r="2.45"/><circle cx="201.67" cy="639.85" r="2.45"/><circle cx="201.94" cy="644.29" r="2.45"/><circle cx="202.21" cy="647.93" r="2.45"/><circle cx="202.49" cy="652.6" r="2.45"/><circle cx="202.76" cy="656.54" r="2.45"/><circle cx="203.03" cy="659.59" r="2.45"/><circle cx="203.31" cy="659.57" r="2.45"/><circle cx="203.58" cy="658" r="2.45"/><circle cx="203.86" cy="655.85" r="2.45"/><circle cx="204.13" cy="655.1" r="2.45"/><circle cx="204.4" cy="654.02" r="2.45"/><circle cx="204.68" cy="652.43" r="2.45"/><circle cx="204.95" cy="652.26" r="2.45"/><circle cx="205.22" cy="650.25" r="2.45"/><circle cx="205.5" cy="648.47" r="2.45"/><circle cx="205.77" cy="646.99" r="2.45"/><circle cx="206.04" cy="647.02" r="2.45"/><circle cx="206.32" cy="645.28" r="2.45"/><circle cx="206.59" cy="643.46" r="2.45"/><circle cx="206.86" cy="642.36" r="2.45"/><circle cx="207.14" cy="640.89" r="2.45"/><circle cx="207.41" cy="638.7" r="2.45"/><circle cx="207.68" cy="637.69" r="2.45"/><circle cx="207.96" cy="636.88" r="2.45"/><circle cx="208.23" cy="633.94" r="2.45"/><circle cx="208.51" cy="632.65" r="2.45"/><circle cx="208.78" cy="631.05" r="2.45"/><circle cx="209.05" cy="629.7" r="2.45"/><circle cx="209.33" cy="626.32" r="2.45"/><circle cx="209.6" cy="626.26" r="2.45"/><circle cx="209.87" cy="623.97" r="2.45"/><circle cx="210.15" cy="621.11" r="2.45"/><circle cx="210.42" cy="618.14" r="2.45"/><circle cx="210.69" cy="615.94" r="2.45"/><circle cx="210.97" cy="615.17" r="2.45"/><circle cx="211.24" cy="612.33" r="2.45"/><circle cx="211.51" cy="610.78" r="2.45"/><circle cx="211.79" cy="606.93" r="2.45"/><circle cx="212.06" cy="605.93" r="2.45"/><circle cx="212.34" cy="602.65" r="2.45"/><circle cx="212.61" cy="599.58" r="2.45"/><circle cx="212.88" cy="604.08" r="2.45"/><circle cx="213.16" cy="607.12" r="2.45"/><circle cx="213.43" cy="612.59" r="2.45"/><circle cx="213.7" cy="616.07" r="2.45"/><circle cx="213.98" cy="620.03" r="2.45"/><circle cx="214.25" cy="624.89" r="2.45"/><circle cx="214.52" cy="628.33" r="2.45"/><circle cx="214.8" cy="633.17" r="2.45"/><circle cx="215.07" cy="638.82" r="2.45"/><circle cx="215.34" cy="639.98" r="2.45"/><circle cx="215.62" cy="646.33" r="2.45"/><circle cx="215.89" cy="651.09" r="2.45"/><circle cx="216.17" cy="656.43" r="2.45"/><circle cx="216.44" cy="660.05" r="2.45"/><circle cx="216.71" cy="659.93" r="2.45"/><circle cx="216.99" cy="658.11" r="2.45"/><circle cx="217.26" cy="657.08" r="2.45"/><circle cx="217.53" cy="655.01" r="2.45"/><circle cx="217.81" cy="654.78" r="2.45"/><circle cx="218.08" cy="653.33" r="2.45"/><circle cx="218.35" cy="652.14" r="2.45"/><circle cx="218.63" cy="651.16" r="2.45"/><circle cx="218.9" cy="649.86" r="2.45"/><circle cx="219.17" cy="647.77" r="2.45"/><circle cx="219.45" cy="646.58" r="2.45"/><circle cx="219.72" cy="646" r="2.45"/><circle cx="220" cy="644.84" r="2.45"/><circle cx="220.27" cy="642.75" r="2.45"/><circle cx="220.54" cy="640.53" r="2.45"/><circle cx="220.82" cy="639.66" r="2.45"/><circle cx="221.09" cy="637.04" r="2.45"/><circle cx="221.36" cy="636.87" r="2.45"/><circle cx="221.64" cy="634.66" r="2.45"/><circle cx="221.91" cy="634.48" r="2.45"/><circle cx="222.18" cy="631.6" r="2.45"/><circle cx="222.46" cy="629.61" r="2.45"/><circle cx="222.73" cy="627.27" r="2.45"/><circle cx="223" cy="624.66" r="2.45"/><circle cx="223.28" cy="623.66" r="2.45"/><circle cx="223.55" cy="620.82" r="2.45"/><circle cx="223.82" cy="619.21" r="2.45"/><circle cx="224.1" cy="616.89" r="2.45"/><circle cx="224.37" cy="615.54" r="2.45"/><circle cx="224.65" cy="612.22" r="2.45"/><circle cx="224.92" cy="611.35" r="2.45"/><circle cx="225.19" cy="608.07" r="2.45"/><circle cx="225.47" cy="606.49" r="2.45"/><circle cx="225.74" cy="603.75" r="2.45"/><circle cx="226.01" cy="601.74" r="2.45"/><circle cx="226.29" cy="602.89" r="2.45"/><circle cx="226.56" cy="606.35" r="2.45"/><circle cx="226.83" cy="610.68" r="2.45"/><circle cx="227.11" cy="615.59" r="2.45"/><circle cx="227.38" cy="618.18" r="2.45"/><circle cx="227.65" cy="623.12" r="2.45"/><circle cx="227.93" cy="627.04" r="2.45"/><circle cx="228.2" cy="631.51" r="2.45"/><circle cx="228.48" cy="636.72" r="2.45"/><circle cx="228.75" cy="641.86" r="2.45"/><circle cx="229.02" cy="645.68" r="2.45"/><circle cx="229.3" cy="648.88" r="2.45"/><circle cx="229.57" cy="654.66" r="2.45"/><circle cx="229.84" cy="658.06" r="2.45"/><circle cx="230.12" cy="660.43" r="2.45"/></g>
<path d="M60.5,635.61 L60.69,634.44 L60.88,633.25 L61.07,632.03 L61.25,630.8 L61.44,629.54 L61.63,628.26 L61.82,626.95 L62.01,625.62 L62.2,624.27 L62.39,622.89 L62.58,621.49 L62.76,620.06 L62.95,618.6 L63.14,617.12 L63.33,615.61 L63.52,614.08 L63.71,612.52 L63.9,610.93 L64.08,609.31 L64.27,611.29 L64.46,613.75 L64.65,616.29 L64.84,618.86 L65.03,621.47 L65.22,624.1 L65.41,626.76 L65.59,629.44 L65.78,632.13 L65.97,634.84 L66.16,637.57 L66.35,640.3 L66.54,643.05 L66.73,645.81 L66.91,648.58 L67.1,651.35 L67.29,654.14 L67.48,656.93 L67.67,659.74 L67.86,662.55 L68.05,664 L68.24,663.26 L68.42,662.52 L68.61,661.78 L68.8,661.03 L68.99,660.28 L69.18,659.51 L69.37,658.74 L69.56,657.96 L69.74,657.17 L69.93,656.37 L70.12,655.56 L70.31,654.74 L70.5,653.91 L70.69,653.06 L70.88,652.2 L71.07,651.33 L71.25,650.44 L71.44,649.54 L71.63,648.62 L71.82,647.69 L72.01,646.74 L72.2,645.77 L72.39,644.79 L72.58,643.79 L72.76,642.77 L72.95,641.73 L73.14,640.67 L73.33,639.6 L73.52,638.5 L73.71,637.38 L73.9,636.25 L74.08,635.09 L74.27,633.91 L74.46,632.71 L74.65,631.48 L74.84,630.24 L75.03,628.97 L75.22,627.68 L75.41,626.36 L75.59,625.02 L75.78,623.65 L75.97,622.26 L76.16,620.85 L76.35,619.41 L76.54,617.94 L76.73,616.45 L76.91,614.93 L77.1,613.38 L77.29,611.81 L77.48,610.21 L77.67,609.98 L77.86,612.38 L78.05,614.88 L78.24,617.43 L78.42,620.02 L78.61,622.65 L78.8,625.29 L78.99,627.96 L79.18,630.64 L79.37,633.35 L79.56,636.06 L79.74,638.79 L79.93,641.53 L80.12,644.28 L80.31,647.05 L80.5,649.82 L80.69,652.6 L80.88,655.39 L81.07,658.19 L81.25,660.99 L81.44,663.8 L81.63,663.67 L81.82,662.93 L82.01,662.19 L82.2,661.45 L82.39,660.69 L82.57,659.93 L82.76,659.17 L82.95,658.39 L83.14,657.61 L83.33,656.82 L83.52,656.01 L83.71,655.2 L83.9,654.37 L84.08,653.53 L84.27,652.68 L84.46,651.81 L84.65,650.93 L84.84,650.04 L85.03,649.13 L85.22,648.2 L85.4,647.26 L85.59,646.31 L85.78,645.33 L85.97,644.34 L86.16,643.33 L86.35,642.3 L86.54,641.26 L86.73,640.19 L86.91,639.11 L87.1,638 L87.29,636.88 L87.48,635.73 L87.67,634.56 L87.86,633.37 L88.05,632.16 L88.23,630.93 L88.42,629.67 L88.61,628.39 L88.8,627.09 L88.99,625.76 L89.18,624.41 L89.37,623.03 L89.56,621.63 L89.74,620.21 L89.93,618.76 L90.12,617.28 L90.31,615.77 L90.5,614.24 L90.69,612.68 L90.88,611.1 L91.06,609.48 L91.25,611.04 L91.44,613.49 L91.63,616.02 L91.82,618.59 L92.01,621.19 L92.2,623.83 L92.39,626.48 L92.57,629.16 L92.76,631.85 L92.95,634.56 L93.14,637.28 L93.33,640.02 L93.52,642.76 L93.71,645.52 L93.9,648.29 L94.08,651.06 L94.27,653.85 L94.46,656.64 L94.65,659.44 L94.84,662.25 L95.03,664.08 L95.22,663.34 L95.4,662.6 L95.59,661.86 L95.78,661.11 L95.97,660.35 L96.16,659.59 L96.35,658.82 L96.54,658.04 L96.73,657.26 L96.91,656.46 L97.1,655.65 L97.29,654.83 L97.48,653.99 L97.67,653.15 L97.86,652.29 L98.05,651.42 L98.23,650.53 L98.42,649.63 L98.61,648.72 L98.8,647.79 L98.99,646.84 L99.18,645.87 L99.37,644.89 L99.56,643.89 L99.74,642.87 L99.93,641.84 L100.12,640.78 L100.31,639.71 L100.5,638.62 L100.69,637.5 L100.88,636.37 L101.06,635.21 L101.25,634.03 L101.44,632.83 L101.63,631.61 L101.82,630.37 L102.01,629.1 L102.2,627.81 L102.39,626.5 L102.57,625.16 L102.76,623.8 L102.95,622.41 L103.14,621 L103.33,619.56 L103.52,618.1 L103.71,616.61 L103.89,615.09 L104.08,613.55 L104.27,611.98 L104.46,610.38 L104.65,609.75 L104.84,612.13 L105.03,614.62 L105.22,617.16 L105.4,619.75 L105.59,622.37 L105.78,625.01 L105.97,627.68 L106.16,630.36 L106.35,633.06 L106.54,635.78 L106.72,638.5 L106.91,641.24 L107.1,643.99 L107.29,646.76 L107.48,649.53 L107.67,652.31 L107.86,655.1 L108.05,657.89 L108.23,660.7 L108.42,663.51 L108.61,663.75 L108.8,663.01 L108.99,662.27 L109.18,661.52 L109.37,660.77 L109.55,660.01 L109.74,659.25 L109.93,658.48 L110.12,657.69 L110.31,656.9 L110.5,656.1 L110.69,655.28 L110.88,654.46 L111.06,653.62 L111.25,652.77 L111.44,651.9 L111.63,651.02 L111.82,650.13 L112.01,649.22 L112.2,648.3 L112.39,647.36 L112.57,646.41 L112.76,645.44 L112.95,644.45 L113.14,643.44 L113.33,642.41 L113.52,641.37 L113.71,640.3 L113.89,639.22 L114.08,638.12 L114.27,637 L114.46,635.85 L114.65,634.69 L114.84,633.5 L115.03,632.29 L115.22,631.06 L115.4,629.81 L115.59,628.53 L115.78,627.23 L115.97,625.9 L116.16,624.55 L116.35,623.18 L116.54,621.78 L116.72,620.36 L116.91,618.91 L117.1,617.43 L117.29,615.93 L117.48,614.4 L117.67,612.85 L117.86,611.26 L118.05,609.65 L118.23,610.79 L118.42,613.23 L118.61,615.75 L118.8,618.32 L118.99,620.92 L119.18,623.55 L119.37,626.2 L119.55,628.88 L119.74,631.57 L119.93,634.27 L120.12,637 L120.31,639.73 L120.5,642.47 L120.69,645.23 L120.88,647.99 L121.06,650.77 L121.25,653.55 L121.44,656.35 L121.63,659.15 L121.82,661.96 L122.01,664.15 L122.2,663.42 L122.38,662.68 L122.57,661.94 L122.76,661.19 L122.95,660.43 L123.14,659.67 L123.33,658.9 L123.52,658.13 L123.71,657.34 L123.89,656.54 L124.08,655.73 L124.27,654.91 L124.46,654.08 L124.65,653.24 L124.84,652.38 L125.03,651.51 L125.21,650.63 L125.4,649.73 L125.59,648.81 L125.78,647.88 L125.97,646.94 L126.16,645.97 L126.35,644.99 L126.54,644 L126.72,642.98 L126.91,641.95 L127.1,640.89 L127.29,639.82 L127.48,638.73 L127.67,637.62 L127.86,636.49 L128.04,635.33 L128.23,634.16 L128.42,632.96 L128.61,631.74 L128.8,630.5 L128.99,629.24 L129.18,627.95 L129.37,626.64 L129.55,625.3 L129.74,623.94 L129.93,622.56 L130.12,621.15 L130.31,619.71 L130.5,618.25 L130.69,616.76 L130.87,615.25 L131.06,613.71 L131.25,612.14 L131.44,610.55 L131.63,609.51 L131.82,611.87 L132.01,614.35 L132.2,616.89 L132.38,619.48 L132.57,622.09 L132.76,624.73 L132.95,627.4 L133.14,630.08 L133.33,632.78 L133.52,635.49 L133.71,638.22 L133.89,640.96 L134.08,643.71 L134.27,646.47 L134.46,649.24 L134.65,652.02 L134.84,654.8 L135.03,657.6 L135.21,660.4 L135.4,663.21 L135.59,663.82 L135.78,663.09 L135.97,662.35 L136.16,661.6 L136.35,660.85 L136.54,660.09 L136.72,659.33 L136.91,658.56 L137.1,657.77 L137.29,656.98 L137.48,656.18 L137.67,655.37 L137.86,654.54 L138.04,653.71 L138.23,652.86 L138.42,651.99 L138.61,651.12 L138.8,650.23 L138.99,649.32 L139.18,648.4 L139.37,647.46 L139.55,646.51 L139.74,645.54 L139.93,644.55 L140.12,643.54 L140.31,642.52 L140.5,641.48 L140.69,640.42 L140.87,639.34 L141.06,638.24 L141.25,637.11 L141.44,635.97 L141.63,634.81 L141.82,633.62 L142.01,632.42 L142.2,631.19 L142.38,629.94 L142.57,628.66 L142.76,627.36 L142.95,626.04 L143.14,624.7 L143.33,623.33 L143.52,621.93 L143.7,620.51 L143.89,619.06 L144.08,617.59 L144.27,616.09 L144.46,614.56 L144.65,613.01 L144.84,611.43 L145.03,609.82 L145.21,610.54 L145.4,612.97 L145.59,615.48 L145.78,618.05 L145.97,620.65 L146.16,623.27 L146.35,625.92 L146.53,628.6 L146.72,631.28 L146.91,633.99 L147.1,636.71 L147.29,639.44 L147.48,642.18 L147.67,644.94 L147.86,647.7 L148.04,650.48 L148.23,653.26 L148.42,656.05 L148.61,658.85 L148.8,661.66 L148.99,664.23 L149.18,663.49 L149.36,662.76 L149.55,662.01 L149.74,661.27 L149.93,660.51 L150.12,659.75 L150.31,658.98 L150.5,658.21 L150.69,657.42 L150.87,656.63 L151.06,655.82 L151.25,655 L151.44,654.17 L151.63,653.33 L151.82,652.47 L152.01,651.6 L152.19,650.72 L152.38,649.82 L152.57,648.91 L152.76,647.98 L152.95,647.04 L153.14,646.08 L153.33,645.1 L153.52,644.1 L153.7,643.09 L153.89,642.06 L154.08,641.01 L154.27,639.94 L154.46,638.85 L154.65,637.74 L154.84,636.61 L155.03,635.45 L155.21,634.28 L155.4,633.09 L155.59,631.87 L155.78,630.63 L155.97,629.37 L156.16,628.08 L156.35,626.78 L156.53,625.44 L156.72,624.09 L156.91,622.7 L157.1,621.3 L157.29,619.86 L157.48,618.41 L157.67,616.92 L157.86,615.41 L158.04,613.87 L158.23,612.31 L158.42,610.72 L158.61,609.28 L158.8,611.61 L158.99,614.09 L159.18,616.62 L159.36,619.21 L159.55,621.82 L159.74,624.46 L159.93,627.12 L160.12,629.8 L160.31,632.49 L160.5,635.21 L160.69,637.93 L160.87,640.67 L161.06,643.42 L161.25,646.18 L161.44,648.94 L161.63,651.72 L161.82,654.51 L162.01,657.31 L162.19,660.11 L162.38,662.92 L162.57,663.9 L162.76,663.16 L162.95,662.42 L163.14,661.68 L163.33,660.93 L163.52,660.17 L163.7,659.41 L163.89,658.64 L164.08,657.86 L164.27,657.07 L164.46,656.27 L164.65,655.45 L164.84,654.63 L165.02,653.8 L165.21,652.95 L165.4,652.09 L165.59,651.21 L165.78,650.32 L165.97,649.42 L166.16,648.5 L166.35,647.56 L166.53,646.61 L166.72,645.64 L166.91,644.65 L167.1,643.65 L167.29,642.63 L167.48,641.59 L167.67,640.53 L167.85,639.45 L168.04,638.35 L168.23,637.23 L168.42,636.09 L168.61,634.93 L168.8,633.75 L168.99,632.55 L169.18,631.32 L169.36,630.07 L169.55,628.8 L169.74,627.5 L169.93,626.18 L170.12,624.84 L170.31,623.47 L170.5,622.08 L170.68,620.66 L170.87,619.21 L171.06,617.74 L171.25,616.25 L171.44,614.73 L171.63,613.18 L171.82,611.6 L172.01,609.99 L172.19,610.29 L172.38,612.71 L172.57,615.22 L172.76,617.78 L172.95,620.37 L173.14,623 L173.33,625.64 L173.51,628.31 L173.7,631 L173.89,633.71 L174.08,636.42 L174.27,639.15 L174.46,641.9 L174.65,644.65 L174.84,647.41 L175.02,650.19 L175.21,652.97 L175.4,655.76 L175.59,658.56 L175.78,661.37 L175.97,664.18 L176.16,663.57 L176.35,662.83 L176.53,662.09 L176.72,661.35 L176.91,660.59 L177.1,659.83 L177.29,659.07 L177.48,658.29 L177.67,657.5 L177.85,656.71 L178.04,655.9 L178.23,655.09 L178.42,654.26 L178.61,653.42 L178.8,652.56 L178.99,651.7 L179.18,650.81 L179.36,649.92 L179.55,649.01 L179.74,648.08 L179.93,647.14 L180.12,646.18 L180.31,645.2 L180.5,644.21 L180.68,643.2 L180.87,642.17 L181.06,641.12 L181.25,640.05 L181.44,638.96 L181.63,637.85 L181.82,636.73 L182.01,635.58 L182.19,634.41 L182.38,633.21 L182.57,632 L182.76,630.76 L182.95,629.5 L183.14,628.22 L183.33,626.91 L183.51,625.58 L183.7,624.23 L183.89,622.85 L184.08,621.45 L184.27,620.02 L184.46,618.56 L184.65,617.08 L184.84,615.57 L185.02,614.04 L185.21,612.47 L185.4,610.88 L185.59,609.27 L185.78,611.36 L185.97,613.82 L186.16,616.36 L186.34,618.93 L186.53,621.54 L186.72,624.18 L186.91,626.84 L187.1,629.52 L187.29,632.21 L187.48,634.92 L187.67,637.64 L187.85,640.38 L188.04,643.13 L188.23,645.89 L188.42,648.65 L188.61,651.43 L188.8,654.22 L188.99,657.01 L189.17,659.81 L189.36,662.62 L189.55,663.98 L189.74,663.24 L189.93,662.5 L190.12,661.76 L190.31,661.01 L190.5,660.25 L190.68,659.49 L190.87,658.72 L191.06,657.94 L191.25,657.15 L191.44,656.35 L191.63,655.54 L191.82,654.72 L192,653.88 L192.19,653.04 L192.38,652.18 L192.57,651.3 L192.76,650.41 L192.95,649.51 L193.14,648.59 L193.33,647.66 L193.51,646.71 L193.7,645.74 L193.89,644.76 L194.08,643.76 L194.27,642.74 L194.46,641.7 L194.65,640.64 L194.84,639.56 L195.02,638.47 L195.21,637.35 L195.4,636.21 L195.59,635.06 L195.78,633.88 L195.97,632.67 L196.16,631.45 L196.34,630.2 L196.53,628.93 L196.72,627.64 L196.91,626.32 L197.1,624.98 L197.29,623.62 L197.48,622.22 L197.67,620.81 L197.85,619.37 L198.04,617.9 L198.23,616.41 L198.42,614.89 L198.61,613.34 L198.8,611.77 L198.99,610.16 L199.17,610.05 L199.36,612.45 L199.55,614.95 L199.74,617.5 L199.93,620.1 L200.12,622.72 L200.31,625.37 L200.5,628.03 L200.68,630.72 L200.87,633.42 L201.06,636.14 L201.25,638.87 L201.44,641.61 L201.63,644.36 L201.82,647.12 L202,649.9 L202.19,652.68 L202.38,655.47 L202.57,658.27 L202.76,661.07 L202.95,663.88 L203.14,663.65 L203.33,662.91 L203.51,662.17 L203.7,661.42 L203.89,660.67 L204.08,659.91 L204.27,659.15 L204.46,658.37 L204.65,657.59 L204.83,656.79 L205.02,655.99 L205.21,655.17 L205.4,654.35 L205.59,653.51 L205.78,652.65 L205.97,651.79 L206.16,650.91 L206.34,650.01 L206.53,649.1 L206.72,648.18 L206.91,647.24 L207.1,646.28 L207.29,645.3 L207.48,644.31 L207.66,643.3 L207.85,642.27 L208.04,641.23 L208.23,640.16 L208.42,639.08 L208.61,637.97 L208.8,636.84 L208.99,635.7 L209.17,634.53 L209.36,633.34 L209.55,632.13 L209.74,630.89 L209.93,629.64 L210.12,628.36 L210.31,627.05 L210.49,625.72 L210.68,624.37 L210.87,623 L211.06,621.59 L211.25,620.17 L211.44,618.71 L211.63,617.24 L211.82,615.73 L212,614.2 L212.19,612.64 L212.38,611.05 L212.57,609.44 L212.76,611.11 L212.95,613.56 L213.14,616.09 L213.32,618.66 L213.51,621.27 L213.7,623.9 L213.89,626.56 L214.08,629.23 L214.27,631.93 L214.46,634.64 L214.65,637.36 L214.83,640.09 L215.02,642.84 L215.21,645.6 L215.4,648.36 L215.59,651.14 L215.78,653.92 L215.97,656.72 L216.16,659.52 L216.34,662.33 L216.53,664.05 L216.72,663.32 L216.91,662.58 L217.1,661.84 L217.29,661.09 L217.48,660.33 L217.66,659.57 L217.85,658.8 L218.04,658.02 L218.23,657.23 L218.42,656.43 L218.61,655.63 L218.8,654.8 L218.99,653.97 L219.17,653.13 L219.36,652.27 L219.55,651.4 L219.74,650.51 L219.93,649.61 L220.12,648.69 L220.31,647.76 L220.49,646.81 L220.68,645.85 L220.87,644.86 L221.06,643.86 L221.25,642.85 L221.44,641.81 L221.63,640.75 L221.82,639.68 L222,638.58 L222.19,637.47 L222.38,636.33 L222.57,635.18 L222.76,634 L222.95,632.8 L223.14,631.58 L223.32,630.33 L223.51,629.07 L223.7,627.78 L223.89,626.46 L224.08,625.12 L224.27,623.76 L224.46,622.37 L224.65,620.96 L224.83,619.52 L225.02,618.06 L225.21,616.56 L225.4,615.05 L225.59,613.5 L225.78,611.93 L225.97,610.33 L226.15,609.81 L226.34,612.19 L226.53,614.69 L226.72,617.24 L226.91,619.82 L227.1,622.44 L227.29,625.09 L227.48,627.75 L227.66,630.44 L227.85,633.14 L228.04,635.85 L228.23,638.58 L228.42,641.32 L228.61,644.07 L228.8,646.83 L228.98,649.6 L229.17,652.39 L229.36,655.17 L229.55,657.97 L229.74,660.78 L229.93,663.59 L230.12,663.73" stroke="#ea2f72" stroke-width="1.45" stroke-linejoin="round"/>
<path d="M60.5,553.5 V681.5 H230.4" stroke="#9a9a9a" stroke-width="1"/>
<path d="M60.5,669.5 h2 M60.5,611.5 h2 M60.5,553.5 h2 M60.5,681.5 v-2 M117.13,681.5 v-2 M173.77,681.5 v-2 M230.4,681.5 v-2" stroke="#8c8c8c" stroke-width="0.8"/>
<circle cx="76.4" cy="544.4" r="2" stroke="#4a90ee" stroke-width="0.75" fill="#fff"/>
<path d="M67.4,558.7 H85.2" stroke="#ea2f72" stroke-width="1.1"/>
</g>
<g font-family="Liberation Sans, sans-serif" fill="#262626" stroke="#262626" stroke-width="0.2" font-size="12.7">
<text x="58.1" y="674.2" text-anchor="end">50</text>
<text x="58.1" y="616.2" text-anchor="end">100</text>
<text x="58.1" y="558.2" text-anchor="end">150</text>
<text x="60.5" y="697.2" text-anchor="middle">0</text>
<text x="117.13" y="697.2" text-anchor="middle">0.1</text>
<text x="173.77" y="697.2" text-anchor="middle">0.2</text>
<text x="230.4" y="697.2" text-anchor="middle">0.3</text>
<text x="145.45" y="713.8" text-anchor="middle" font-size="14.4" textLength="55" lengthAdjust="spacing">Time (s)</text>
<text x="87.6" y="548.9" font-size="12.2" fill="#000">Measurements</text>
<text x="87.6" y="563.5" font-size="12.2" fill="#000">Simulations</text>
<text transform="translate(29.3,649.4) rotate(-90)" font-size="21.4" font-style="italic">I</text>
<text transform="translate(34.2,642.6) rotate(-90)" font-size="11.4">spike</text>
<text transform="translate(29.6,610.8) rotate(-90)" font-size="17" textLength="27.6" lengthAdjust="spacingAndGlyphs">(µA)</text>
</g>
<g fill="none">
<g stroke="#3f8af0" stroke-width="0.85" fill="none"><circle cx="281.78" cy="645.27" r="2.65"/><circle cx="282.69" cy="644.58" r="2.65"/><circle cx="283.6" cy="645.32" r="2.65"/><circle cx="284.51" cy="642.68" r="2.65"/><circle cx="285.42" cy="644.19" r="2.65"/><circle cx="286.33" cy="643.09" r="2.65"/><circle cx="287.24" cy="641.66" r="2.65"/><circle cx="288.15" cy="641.87" r="2.65"/><circle cx="289.06" cy="640.56" r="2.65"/><circle cx="289.97" cy="638.23" r="2.65"/><circle cx="290.88" cy="628.28" r="2.65"/><circle cx="291.79" cy="602.56" r="2.65"/><circle cx="292.7" cy="581.43" r="2.65"/><circle cx="293.61" cy="581.02" r="2.65"/><circle cx="294.52" cy="582.57" r="2.65"/><circle cx="295.43" cy="586.9" r="2.65"/><circle cx="296.34" cy="591.51" r="2.65"/><circle cx="297.25" cy="595.67" r="2.65"/><circle cx="298.16" cy="601.59" r="2.65"/><circle cx="299.07" cy="606.14" r="2.65"/><circle cx="299.98" cy="611.82" r="2.65"/><circle cx="300.89" cy="616.82" r="2.65"/><circle cx="301.8" cy="623.31" r="2.65"/><circle cx="302.71" cy="633.53" r="2.65"/><circle cx="303.62" cy="652.74" r="2.65"/><circle cx="304.53" cy="660.54" r="2.65"/><circle cx="305.44" cy="660.04" r="2.65"/><circle cx="306.35" cy="659.58" r="2.65"/><circle cx="307.26" cy="659.11" r="2.65"/><circle cx="308.17" cy="657.78" r="2.65"/><circle cx="309.08" cy="657.28" r="2.65"/><circle cx="309.99" cy="655.28" r="2.65"/><circle cx="310.9" cy="657.46" r="2.65"/><circle cx="311.81" cy="655.46" r="2.65"/><circle cx="312.72" cy="654.81" r="2.65"/><circle cx="313.63" cy="653.75" r="2.65"/><circle cx="314.54" cy="653.77" r="2.65"/><circle cx="315.45" cy="654.09" r="2.65"/><circle cx="316.36" cy="653.15" r="2.65"/><circle cx="317.27" cy="652.41" r="2.65"/><circle cx="318.18" cy="652.48" r="2.65"/><circle cx="319.09" cy="651.44" r="2.65"/><circle cx="320" cy="652.56" r="2.65"/><circle cx="320.91" cy="650.06" r="2.65"/><circle cx="321.82" cy="649.8" r="2.65"/><circle cx="322.73" cy="650.42" r="2.65"/><circle cx="323.64" cy="649.45" r="2.65"/><circle cx="324.55" cy="649.34" r="2.65"/><circle cx="325.46" cy="649.41" r="2.65"/><circle cx="326.37" cy="648.44" r="2.65"/><circle cx="327.28" cy="647.47" r="2.65"/><circle cx="328.19" cy="647.83" r="2.65"/><circle cx="329.1" cy="647.39" r="2.65"/><circle cx="330.01" cy="646.77" r="2.65"/><circle cx="330.92" cy="646.02" r="2.65"/><circle cx="331.83" cy="645.08" r="2.65"/><circle cx="332.74" cy="645.72" r="2.65"/><circle cx="333.65" cy="644.59" r="2.65"/><circle cx="334.56" cy="644.28" r="2.65"/><circle cx="335.47" cy="645.02" r="2.65"/><circle cx="336.38" cy="643.74" r="2.65"/><circle cx="337.29" cy="643.08" r="2.65"/><circle cx="338.2" cy="642.45" r="2.65"/><circle cx="339.11" cy="641.55" r="2.65"/><circle cx="340.02" cy="642.03" r="2.65"/><circle cx="340.93" cy="639.45" r="2.65"/><circle cx="341.84" cy="636.95" r="2.65"/><circle cx="342.75" cy="623.84" r="2.65"/><circle cx="343.66" cy="594.62" r="2.65"/><circle cx="344.57" cy="579.62" r="2.65"/><circle cx="345.48" cy="581.38" r="2.65"/><circle cx="346.39" cy="583.28" r="2.65"/><circle cx="347.3" cy="588.15" r="2.65"/><circle cx="348.21" cy="592.93" r="2.65"/><circle cx="349.12" cy="598.38" r="2.65"/><circle cx="350.03" cy="601.67" r="2.65"/><circle cx="350.94" cy="609.2" r="2.65"/><circle cx="351.85" cy="612.87" r="2.65"/><circle cx="352.76" cy="618.12" r="2.65"/><circle cx="353.67" cy="626.95" r="2.65"/><circle cx="354.58" cy="637.66" r="2.65"/><circle cx="355.49" cy="656.99" r="2.65"/><circle cx="356.4" cy="659.79" r="2.65"/><circle cx="357.31" cy="658.68" r="2.65"/><circle cx="358.22" cy="658.95" r="2.65"/><circle cx="359.13" cy="658.91" r="2.65"/><circle cx="360.04" cy="656.73" r="2.65"/><circle cx="360.95" cy="656.26" r="2.65"/><circle cx="361.86" cy="656.69" r="2.65"/><circle cx="362.77" cy="655.69" r="2.65"/><circle cx="363.68" cy="655.16" r="2.65"/><circle cx="364.59" cy="654.55" r="2.65"/><circle cx="365.5" cy="654.28" r="2.65"/><circle cx="366.4" cy="653.11" r="2.65"/><circle cx="367.31" cy="654.47" r="2.65"/><circle cx="368.22" cy="652.42" r="2.65"/><circle cx="369.13" cy="652.38" r="2.65"/><circle cx="370.04" cy="652.3" r="2.65"/><circle cx="370.95" cy="651.08" r="2.65"/><circle cx="371.86" cy="652.71" r="2.65"/><circle cx="372.77" cy="650.27" r="2.65"/><circle cx="373.68" cy="650.3" r="2.65"/><circle cx="374.59" cy="650.76" r="2.65"/><circle cx="375.5" cy="649.42" r="2.65"/><circle cx="376.41" cy="649.41" r="2.65"/><circle cx="377.32" cy="647.3" r="2.65"/><circle cx="378.23" cy="647.3" r="2.65"/><circle cx="379.14" cy="647.67" r="2.65"/><circle cx="380.05" cy="647.9" r="2.65"/><circle cx="380.96" cy="647.38" r="2.65"/><circle cx="381.87" cy="646.78" r="2.65"/><circle cx="382.78" cy="646.47" r="2.65"/><circle cx="383.69" cy="646.21" r="2.65"/><circle cx="384.6" cy="645.56" r="2.65"/><circle cx="385.51" cy="644.91" r="2.65"/><circle cx="386.42" cy="644.57" r="2.65"/><circle cx="387.33" cy="644.22" r="2.65"/><circle cx="388.24" cy="643.89" r="2.65"/><circle cx="389.15" cy="641.37" r="2.65"/><circle cx="390.06" cy="643.09" r="2.65"/><circle cx="390.97" cy="642.1" r="2.65"/><circle cx="391.88" cy="640.26" r="2.65"/><circle cx="392.79" cy="639.07" r="2.65"/><circle cx="393.7" cy="634.49" r="2.65"/><circle cx="394.61" cy="615.58" r="2.65"/><circle cx="395.52" cy="584.89" r="2.65"/><circle cx="396.43" cy="579.21" r="2.65"/><circle cx="397.34" cy="582.3" r="2.65"/><circle cx="398.25" cy="584.16" r="2.65"/><circle cx="399.16" cy="590.4" r="2.65"/><circle cx="400.07" cy="594.45" r="2.65"/><circle cx="400.98" cy="599.44" r="2.65"/><circle cx="401.89" cy="604.66" r="2.65"/><circle cx="402.8" cy="608.84" r="2.65"/><circle cx="403.71" cy="614.48" r="2.65"/><circle cx="404.62" cy="619.88" r="2.65"/><circle cx="405.53" cy="629.26" r="2.65"/><circle cx="406.44" cy="642.92" r="2.65"/><circle cx="407.35" cy="659.59" r="2.65"/><circle cx="408.26" cy="659.97" r="2.65"/><circle cx="409.17" cy="659.98" r="2.65"/><circle cx="410.08" cy="658.68" r="2.65"/><circle cx="410.99" cy="658.83" r="2.65"/><circle cx="411.9" cy="658.57" r="2.65"/><circle cx="412.81" cy="654.9" r="2.65"/><circle cx="413.72" cy="655.7" r="2.65"/><circle cx="414.63" cy="654.7" r="2.65"/><circle cx="415.54" cy="655.48" r="2.65"/><circle cx="416.45" cy="654.33" r="2.65"/><circle cx="417.36" cy="653.85" r="2.65"/><circle cx="418.27" cy="653.44" r="2.65"/><circle cx="419.18" cy="653.33" r="2.65"/><circle cx="420.09" cy="653.03" r="2.65"/><circle cx="421" cy="653.67" r="2.65"/><circle cx="421.91" cy="651.7" r="2.65"/><circle cx="422.82" cy="651.4" r="2.65"/><circle cx="423.73" cy="650.58" r="2.65"/><circle cx="424.64" cy="650.98" r="2.65"/><circle cx="425.55" cy="649.39" r="2.65"/><circle cx="426.46" cy="650.24" r="2.65"/><circle cx="427.37" cy="650.27" r="2.65"/><circle cx="428.28" cy="648.56" r="2.65"/><circle cx="429.19" cy="648.94" r="2.65"/><circle cx="430.1" cy="648.96" r="2.65"/><circle cx="431.01" cy="647.72" r="2.65"/><circle cx="431.92" cy="646.91" r="2.65"/><circle cx="432.83" cy="646.77" r="2.65"/><circle cx="433.74" cy="646.17" r="2.65"/><circle cx="434.65" cy="643.63" r="2.65"/><circle cx="435.56" cy="645.07" r="2.65"/><circle cx="436.47" cy="644.19" r="2.65"/><circle cx="437.38" cy="645.76" r="2.65"/><circle cx="438.29" cy="643.92" r="2.65"/><circle cx="439.2" cy="643.23" r="2.65"/><circle cx="440.11" cy="643.42" r="2.65"/><circle cx="441.02" cy="643.19" r="2.65"/><circle cx="441.93" cy="641.81" r="2.65"/><circle cx="442.84" cy="641.44" r="2.65"/><circle cx="443.75" cy="640.47" r="2.65"/><circle cx="444.66" cy="637.44" r="2.65"/><circle cx="445.57" cy="629.98" r="2.65"/><circle cx="446.48" cy="607.38" r="2.65"/><circle cx="447.39" cy="582.55" r="2.65"/><circle cx="448.3" cy="579.83" r="2.65"/><circle cx="449.21" cy="582.05" r="2.65"/><circle cx="450.12" cy="585.64" r="2.65"/></g>
<path d="M281.5,649.19 L281.69,649.06 L281.87,648.92 L282.06,648.77 L282.25,648.63 L282.43,648.47 L282.62,648.31 L282.81,648.15 L283,647.97 L283.18,647.79 L283.37,647.6 L283.56,647.4 L283.74,647.19 L283.93,646.97 L284.12,646.74 L284.3,646.49 L284.49,646.24 L284.68,645.96 L284.86,645.67 L285.05,645.37 L285.24,645.04 L285.43,644.69 L285.61,644.32 L285.8,643.93 L285.99,643.5 L286.17,643.04 L286.36,642.54 L286.55,642 L286.73,641.41 L286.92,640.78 L287.11,640.11 L287.3,639.39 L287.48,638.62 L287.67,637.81 L287.86,636.94 L288.04,635.98 L288.23,634.87 L288.42,633.64 L288.6,632.28 L288.79,630.81 L288.98,629.23 L289.16,627.55 L289.35,625.78 L289.54,623.82 L289.73,621.52 L289.91,618.95 L290.1,616.19 L290.29,613.3 L290.47,610.37 L290.66,607.46 L290.85,604.66 L291.03,601.96 L291.22,599.08 L291.41,596.09 L291.59,593.15 L291.78,590.38 L291.97,587.95 L292.16,585.99 L292.34,584.53 L292.53,583.25 L292.72,582.18 L292.9,581.39 L293.09,581.44 L293.28,582.16 L293.46,582.91 L293.65,583.7 L293.84,584.52 L294.02,585.37 L294.21,586.25 L294.4,587.16 L294.59,588.1 L294.77,589.06 L294.96,590.05 L295.15,591.07 L295.33,592.14 L295.52,593.26 L295.71,594.42 L295.89,595.63 L296.08,596.87 L296.27,598.14 L296.45,599.44 L296.64,600.76 L296.83,602.1 L297.02,603.45 L297.2,604.81 L297.39,606.17 L297.58,607.53 L297.76,608.88 L297.95,610.22 L298.14,611.56 L298.32,612.89 L298.51,614.23 L298.7,615.58 L298.89,616.95 L299.07,618.33 L299.26,619.74 L299.45,621.18 L299.63,622.65 L299.82,624.16 L300.01,625.72 L300.19,627.33 L300.38,629 L300.57,630.73 L300.75,632.52 L300.94,634.4 L301.13,636.38 L301.32,638.46 L301.5,640.64 L301.69,642.91 L301.88,645.26 L302.06,647.71 L302.25,650.24 L302.44,652.86 L302.62,655.67 L302.81,659.47 L303,663.7 L303.18,667.51 L303.37,670.07 L303.56,670.58 L303.75,669.47 L303.93,667.89 L304.12,666.87 L304.31,666.35 L304.49,665.9 L304.68,665.53 L304.87,665.21 L305.05,664.94 L305.24,664.69 L305.43,664.46 L305.61,664.24 L305.8,664.04 L305.99,663.85 L306.18,663.66 L306.36,663.49 L306.55,663.33 L306.74,663.17 L306.92,663.03 L307.11,662.89 L307.3,662.75 L307.48,662.62 L307.67,662.49 L307.86,662.37 L308.04,662.24 L308.23,662.12 L308.42,662 L308.61,661.88 L308.79,661.76 L308.98,661.64 L309.17,661.52 L309.35,661.41 L309.54,661.3 L309.73,661.19 L309.91,661.08 L310.1,660.97 L310.29,660.86 L310.48,660.76 L310.66,660.65 L310.85,660.55 L311.04,660.45 L311.22,660.35 L311.41,660.25 L311.6,660.16 L311.78,660.06 L311.97,659.97 L312.16,659.87 L312.34,659.78 L312.53,659.69 L312.72,659.6 L312.91,659.51 L313.09,659.42 L313.28,659.33 L313.47,659.24 L313.65,659.15 L313.84,659.06 L314.03,658.98 L314.21,658.89 L314.4,658.8 L314.59,658.72 L314.77,658.63 L314.96,658.55 L315.15,658.46 L315.34,658.38 L315.52,658.29 L315.71,658.21 L315.9,658.12 L316.08,658.04 L316.27,657.95 L316.46,657.86 L316.64,657.78 L316.83,657.69 L317.02,657.6 L317.2,657.52 L317.39,657.43 L317.58,657.34 L317.77,657.25 L317.95,657.16 L318.14,657.07 L318.33,656.98 L318.51,656.88 L318.7,656.79 L318.89,656.7 L319.07,656.6 L319.26,656.51 L319.45,656.41 L319.63,656.32 L319.82,656.23 L320.01,656.13 L320.2,656.04 L320.38,655.95 L320.57,655.86 L320.76,655.76 L320.94,655.67 L321.13,655.58 L321.32,655.49 L321.5,655.4 L321.69,655.3 L321.88,655.21 L322.07,655.12 L322.25,655.03 L322.44,654.94 L322.63,654.84 L322.81,654.75 L323,654.66 L323.19,654.57 L323.37,654.48 L323.56,654.39 L323.75,654.29 L323.93,654.2 L324.12,654.11 L324.31,654.02 L324.5,653.92 L324.68,653.83 L324.87,653.74 L325.06,653.64 L325.24,653.55 L325.43,653.45 L325.62,653.36 L325.8,653.27 L325.99,653.17 L326.18,653.08 L326.36,652.98 L326.55,652.88 L326.74,652.79 L326.93,652.69 L327.11,652.59 L327.3,652.5 L327.49,652.4 L327.67,652.3 L327.86,652.2 L328.05,652.1 L328.23,652 L328.42,651.9 L328.61,651.8 L328.79,651.7 L328.98,651.6 L329.17,651.49 L329.36,651.39 L329.54,651.29 L329.73,651.19 L329.92,651.09 L330.1,650.99 L330.29,650.89 L330.48,650.78 L330.66,650.68 L330.85,650.58 L331.04,650.48 L331.22,650.37 L331.41,650.26 L331.6,650.16 L331.79,650.04 L331.97,649.93 L332.16,649.82 L332.35,649.7 L332.53,649.58 L332.72,649.45 L332.91,649.33 L333.09,649.19 L333.28,649.06 L333.47,648.92 L333.66,648.78 L333.84,648.63 L334.03,648.48 L334.22,648.32 L334.4,648.15 L334.59,647.98 L334.78,647.8 L334.96,647.61 L335.15,647.41 L335.34,647.2 L335.52,646.98 L335.71,646.75 L335.9,646.5 L336.09,646.24 L336.27,645.97 L336.46,645.68 L336.65,645.37 L336.83,645.05 L337.02,644.7 L337.21,644.33 L337.39,643.94 L337.58,643.52 L337.77,643.06 L337.95,642.56 L338.14,642.01 L338.33,641.43 L338.52,640.8 L338.7,640.13 L338.89,639.41 L339.08,638.65 L339.26,637.83 L339.45,636.97 L339.64,636.01 L339.82,634.91 L340.01,633.68 L340.2,632.33 L340.38,630.86 L340.57,629.28 L340.76,627.6 L340.95,625.83 L341.13,623.88 L341.32,621.6 L341.51,619.03 L341.69,616.27 L341.88,613.39 L342.07,610.46 L342.25,607.55 L342.44,604.74 L342.63,602.05 L342.82,599.17 L343,596.18 L343.19,593.23 L343.38,590.46 L343.56,588.02 L343.75,586.04 L343.94,584.57 L344.12,583.29 L344.31,582.21 L344.5,581.41 L344.68,581.42 L344.87,582.14 L345.06,582.89 L345.25,583.68 L345.43,584.5 L345.62,585.35 L345.81,586.23 L345.99,587.13 L346.18,588.07 L346.37,589.04 L346.55,590.02 L346.74,591.04 L346.93,592.11 L347.11,593.22 L347.3,594.39 L347.49,595.59 L347.68,596.83 L347.86,598.1 L348.05,599.4 L348.24,600.72 L348.42,602.06 L348.61,603.41 L348.8,604.77 L348.98,606.13 L349.17,607.49 L349.36,608.84 L349.54,610.18 L349.73,611.52 L349.92,612.85 L350.11,614.19 L350.29,615.54 L350.48,616.9 L350.67,618.29 L350.85,619.69 L351.04,621.13 L351.23,622.6 L351.41,624.12 L351.6,625.67 L351.79,627.28 L351.97,628.95 L352.16,630.67 L352.35,632.47 L352.54,634.34 L352.72,636.32 L352.91,638.4 L353.1,640.57 L353.28,642.84 L353.47,645.19 L353.66,647.63 L353.84,650.16 L354.03,652.78 L354.22,655.58 L354.41,659.35 L354.59,663.57 L354.78,667.41 L354.97,670.02 L355.15,670.59 L355.34,669.52 L355.53,667.93 L355.71,666.89 L355.9,666.36 L356.09,665.92 L356.27,665.54 L356.46,665.22 L356.65,664.94 L356.84,664.7 L357.02,664.47 L357.21,664.25 L357.4,664.04 L357.58,663.85 L357.77,663.67 L357.96,663.5 L358.14,663.33 L358.33,663.18 L358.52,663.03 L358.7,662.89 L358.89,662.75 L359.08,662.62 L359.27,662.5 L359.45,662.37 L359.64,662.25 L359.83,662.13 L360.01,662 L360.2,661.88 L360.39,661.76 L360.57,661.64 L360.76,661.53 L360.95,661.41 L361.13,661.3 L361.32,661.19 L361.51,661.08 L361.7,660.97 L361.88,660.87 L362.07,660.76 L362.26,660.66 L362.44,660.55 L362.63,660.45 L362.82,660.35 L363,660.26 L363.19,660.16 L363.38,660.06 L363.56,659.97 L363.75,659.88 L363.94,659.78 L364.13,659.69 L364.31,659.6 L364.5,659.51 L364.69,659.42 L364.87,659.33 L365.06,659.24 L365.25,659.15 L365.43,659.07 L365.62,658.98 L365.81,658.89 L366,658.81 L366.18,658.72 L366.37,658.64 L366.56,658.55 L366.74,658.46 L366.93,658.38 L367.12,658.29 L367.3,658.21 L367.49,658.12 L367.68,658.04 L367.86,657.95 L368.05,657.87 L368.24,657.78 L368.43,657.69 L368.61,657.61 L368.8,657.52 L368.99,657.43 L369.17,657.34 L369.36,657.25 L369.55,657.16 L369.73,657.07 L369.92,656.98 L370.11,656.89 L370.29,656.79 L370.48,656.7 L370.67,656.6 L370.86,656.51 L371.04,656.42 L371.23,656.32 L371.42,656.23 L371.6,656.14 L371.79,656.04 L371.98,655.95 L372.16,655.86 L372.35,655.77 L372.54,655.67 L372.72,655.58 L372.91,655.49 L373.1,655.4 L373.29,655.31 L373.47,655.21 L373.66,655.12 L373.85,655.03 L374.03,654.94 L374.22,654.85 L374.41,654.76 L374.59,654.66 L374.78,654.57 L374.97,654.48 L375.15,654.39 L375.34,654.3 L375.53,654.2 L375.72,654.11 L375.9,654.02 L376.09,653.93 L376.28,653.83 L376.46,653.74 L376.65,653.65 L376.84,653.55 L377.02,653.46 L377.21,653.36 L377.4,653.27 L377.59,653.17 L377.77,653.08 L377.96,652.98 L378.15,652.89 L378.33,652.79 L378.52,652.69 L378.71,652.6 L378.89,652.5 L379.08,652.4 L379.27,652.3 L379.45,652.2 L379.64,652.1 L379.83,652 L380.02,651.9 L380.2,651.8 L380.39,651.7 L380.58,651.6 L380.76,651.5 L380.95,651.39 L381.14,651.29 L381.32,651.19 L381.51,651.09 L381.7,650.99 L381.88,650.89 L382.07,650.79 L382.26,650.69 L382.45,650.58 L382.63,650.48 L382.82,650.37 L383.01,650.27 L383.19,650.16 L383.38,650.05 L383.57,649.94 L383.75,649.82 L383.94,649.7 L384.13,649.58 L384.31,649.46 L384.5,649.33 L384.69,649.2 L384.88,649.06 L385.06,648.93 L385.25,648.78 L385.44,648.64 L385.62,648.48 L385.81,648.32 L386,648.16 L386.18,647.99 L386.37,647.8 L386.56,647.61 L386.74,647.41 L386.93,647.21 L387.12,646.99 L387.31,646.75 L387.49,646.51 L387.68,646.25 L387.87,645.98 L388.05,645.69 L388.24,645.38 L388.43,645.06 L388.61,644.71 L388.8,644.34 L388.99,643.95 L389.18,643.53 L389.36,643.07 L389.55,642.57 L389.74,642.03 L389.92,641.45 L390.11,640.82 L390.3,640.15 L390.48,639.44 L390.67,638.67 L390.86,637.86 L391.04,637 L391.23,636.04 L391.42,634.94 L391.61,633.72 L391.79,632.37 L391.98,630.9 L392.17,629.33 L392.35,627.66 L392.54,625.89 L392.73,623.95 L392.91,621.67 L393.1,619.11 L393.29,616.36 L393.47,613.48 L393.66,610.54 L393.85,607.63 L394.04,604.82 L394.22,602.13 L394.41,599.26 L394.6,596.27 L394.78,593.32 L394.97,590.54 L395.16,588.08 L395.34,586.09 L395.53,584.61 L395.72,583.33 L395.9,582.24 L396.09,581.43 L396.28,581.4 L396.47,582.12 L396.65,582.87 L396.84,583.65 L397.03,584.47 L397.21,585.32 L397.4,586.2 L397.59,587.11 L397.77,588.04 L397.96,589.01 L398.15,589.99 L398.34,591.01 L398.52,592.08 L398.71,593.19 L398.9,594.35 L399.08,595.55 L399.27,596.79 L399.46,598.06 L399.64,599.36 L399.83,600.68 L400.02,602.02 L400.2,603.37 L400.39,604.73 L400.58,606.09 L400.77,607.45 L400.95,608.8 L401.14,610.14 L401.33,611.48 L401.51,612.81 L401.7,614.15 L401.89,615.5 L402.07,616.86 L402.26,618.24 L402.45,619.65 L402.63,621.09 L402.82,622.56 L403.01,624.07 L403.2,625.63 L403.38,627.23 L403.57,628.9 L403.76,630.62 L403.94,632.41 L404.13,634.29 L404.32,636.26 L404.5,638.34 L404.69,640.5 L404.88,642.77 L405.06,645.12 L405.25,647.56 L405.44,650.09 L405.63,652.69 L405.81,655.48 L406,659.22 L406.19,663.45 L406.37,667.31 L406.56,669.96 L406.75,670.61 L406.93,669.56 L407.12,667.98 L407.31,666.9 L407.49,666.38 L407.68,665.93 L407.87,665.55 L408.06,665.23 L408.24,664.95 L408.43,664.7 L408.62,664.47 L408.8,664.26 L408.99,664.05 L409.18,663.86 L409.36,663.67 L409.55,663.5 L409.74,663.34 L409.93,663.18 L410.11,663.04 L410.3,662.89 L410.49,662.76 L410.67,662.63 L410.86,662.5 L411.05,662.37 L411.23,662.25 L411.42,662.13 L411.61,662.01 L411.79,661.89 L411.98,661.77 L412.17,661.65 L412.36,661.53 L412.54,661.42 L412.73,661.3 L412.92,661.19 L413.1,661.08 L413.29,660.97 L413.48,660.87 L413.66,660.76 L413.85,660.66 L414.04,660.56 L414.22,660.46 L414.41,660.36 L414.6,660.26 L414.79,660.16 L414.97,660.07 L415.16,659.97 L415.35,659.88 L415.53,659.79 L415.72,659.69 L415.91,659.6 L416.09,659.51 L416.28,659.42 L416.47,659.33 L416.65,659.24 L416.84,659.16 L417.03,659.07 L417.22,658.98 L417.4,658.9 L417.59,658.81 L417.78,658.72 L417.96,658.64 L418.15,658.55 L418.34,658.47 L418.52,658.38 L418.71,658.3 L418.9,658.21 L419.08,658.13 L419.27,658.04 L419.46,657.95 L419.65,657.87 L419.83,657.78 L420.02,657.7 L420.21,657.61 L420.39,657.52 L420.58,657.43 L420.77,657.34 L420.95,657.25 L421.14,657.16 L421.33,657.07 L421.52,656.98 L421.7,656.89 L421.89,656.8 L422.08,656.7 L422.26,656.61 L422.45,656.51 L422.64,656.42 L422.82,656.33 L423.01,656.23 L423.2,656.14 L423.38,656.05 L423.57,655.95 L423.76,655.86 L423.95,655.77 L424.13,655.68 L424.32,655.59 L424.51,655.49 L424.69,655.4 L424.88,655.31 L425.07,655.22 L425.25,655.13 L425.44,655.03 L425.63,654.94 L425.81,654.85 L426,654.76 L426.19,654.67 L426.38,654.57 L426.56,654.48 L426.75,654.39 L426.94,654.3 L427.12,654.21 L427.31,654.11 L427.5,654.02 L427.68,653.93 L427.87,653.84 L428.06,653.74 L428.24,653.65 L428.43,653.55 L428.62,653.46 L428.81,653.37 L428.99,653.27 L429.18,653.18 L429.37,653.08 L429.55,652.99 L429.74,652.89 L429.93,652.79 L430.11,652.7 L430.3,652.6 L430.49,652.5 L430.67,652.4 L430.86,652.31 L431.05,652.21 L431.24,652.11 L431.42,652.01 L431.61,651.91 L431.8,651.81 L431.98,651.7 L432.17,651.6 L432.36,651.5 L432.54,651.4 L432.73,651.3 L432.92,651.19 L433.11,651.09 L433.29,650.99 L433.48,650.89 L433.67,650.79 L433.85,650.69 L434.04,650.59 L434.23,650.48 L434.41,650.38 L434.6,650.27 L434.79,650.16 L434.97,650.05 L435.16,649.94 L435.35,649.82 L435.54,649.71 L435.72,649.59 L435.91,649.46 L436.1,649.33 L436.28,649.2 L436.47,649.07 L436.66,648.93 L436.84,648.79 L437.03,648.64 L437.22,648.49 L437.4,648.33 L437.59,648.16 L437.78,647.99 L437.97,647.81 L438.15,647.62 L438.34,647.42 L438.53,647.21 L438.71,646.99 L438.9,646.76 L439.09,646.52 L439.27,646.26 L439.46,645.99 L439.65,645.7 L439.83,645.39 L440.02,645.07 L440.21,644.72 L440.4,644.36 L440.58,643.97 L440.77,643.54 L440.96,643.09 L441.14,642.59 L441.33,642.05 L441.52,641.47 L441.7,640.84 L441.89,640.17 L442.08,639.46 L442.26,638.7 L442.45,637.89 L442.64,637.03 L442.83,636.07 L443.01,634.98 L443.2,633.76 L443.39,632.41 L443.57,630.95 L443.76,629.38 L443.95,627.71 L444.13,625.94 L444.32,624.01 L444.51,621.74 L444.7,619.19 L444.88,616.44 L445.07,613.57 L445.26,610.63 L445.44,607.72 L445.63,604.91 L445.82,602.21 L446,599.35 L446.19,596.36 L446.38,593.41 L446.56,590.62 L446.75,588.15 L446.94,586.14 L447.13,584.65 L447.31,583.36 L447.5,582.27 L447.69,581.45 L447.87,581.38 L448.06,582.09 L448.25,582.84 L448.43,583.63 L448.62,584.45 L448.81,585.29 L448.99,586.17 L449.18,587.08 L449.37,588.01 L449.56,588.98" stroke="#ea2f72" stroke-width="1.45" stroke-linejoin="round"/>
<path d="M281.5,553.5 V681.5 H450.4" stroke="#9a9a9a" stroke-width="1"/>
<path d="M281.5,669.5 h2 M281.5,611.5 h2 M281.5,553.5 h2 M281.5,681.5 v-2 M337.8,681.5 v-2 M394.1,681.5 v-2 M450.4,681.5 v-2" stroke="#8c8c8c" stroke-width="0.8"/>
<circle cx="297.4" cy="544.4" r="2" stroke="#4a90ee" stroke-width="0.75" fill="#fff"/>
<path d="M288.4,558.7 H306.2" stroke="#ea2f72" stroke-width="1.1"/>
</g>
<g font-family="Liberation Sans, sans-serif" fill="#262626" stroke="#262626" stroke-width="0.2" font-size="12.7">
<text x="279.1" y="674.2" text-anchor="end">50</text>
<text x="279.1" y="616.2" text-anchor="end">100</text>
<text x="279.1" y="558.2" text-anchor="end">150</text>
<text x="281.5" y="697.2" text-anchor="middle">0</text>
<text x="337.8" y="697.2" text-anchor="middle">0.1</text>
<text x="394.1" y="697.2" text-anchor="middle">0.2</text>
<text x="450.4" y="697.2" text-anchor="middle">0.3</text>
<text x="365.95" y="713.8" text-anchor="middle" font-size="14.4" textLength="55" lengthAdjust="spacing">Time (s)</text>
<text x="308.6" y="548.9" font-size="12.2" fill="#000">Measurements</text>
<text x="308.6" y="563.5" font-size="12.2" fill="#000">Simulations</text>
</g>
<g fill="none">
<g stroke="#3f8af0" stroke-width="0.85" fill="none"><circle cx="501.78" cy="656.88" r="2.65"/><circle cx="502.69" cy="657.39" r="2.65"/><circle cx="503.6" cy="657.32" r="2.65"/><circle cx="504.5" cy="658.18" r="2.65"/><circle cx="505.41" cy="656.98" r="2.65"/><circle cx="506.32" cy="656.75" r="2.65"/><circle cx="507.23" cy="656.31" r="2.65"/><circle cx="508.14" cy="656.34" r="2.65"/><circle cx="509.04" cy="655.71" r="2.65"/><circle cx="509.95" cy="655.68" r="2.65"/><circle cx="510.86" cy="655.87" r="2.65"/><circle cx="511.77" cy="654.3" r="2.65"/><circle cx="512.67" cy="654.01" r="2.65"/><circle cx="513.58" cy="653.24" r="2.65"/><circle cx="514.49" cy="653.91" r="2.65"/><circle cx="515.4" cy="653.88" r="2.65"/><circle cx="516.31" cy="653.67" r="2.65"/><circle cx="517.21" cy="653.96" r="2.65"/><circle cx="518.12" cy="652.21" r="2.65"/><circle cx="519.03" cy="653.13" r="2.65"/><circle cx="519.94" cy="652.89" r="2.65"/><circle cx="520.84" cy="652.04" r="2.65"/><circle cx="521.75" cy="650.76" r="2.65"/><circle cx="522.66" cy="651.2" r="2.65"/><circle cx="523.57" cy="651.64" r="2.65"/><circle cx="524.48" cy="651.17" r="2.65"/><circle cx="525.38" cy="650.1" r="2.65"/><circle cx="526.29" cy="650.27" r="2.65"/><circle cx="527.2" cy="650.33" r="2.65"/><circle cx="528.11" cy="649.73" r="2.65"/><circle cx="529.01" cy="648.87" r="2.65"/><circle cx="529.92" cy="647.87" r="2.65"/><circle cx="530.83" cy="649.46" r="2.65"/><circle cx="531.74" cy="648.82" r="2.65"/><circle cx="532.65" cy="648.64" r="2.65"/><circle cx="533.55" cy="649.3" r="2.65"/><circle cx="534.46" cy="648.16" r="2.65"/><circle cx="535.37" cy="647.95" r="2.65"/><circle cx="536.28" cy="646.45" r="2.65"/><circle cx="537.18" cy="646.94" r="2.65"/><circle cx="538.09" cy="647.58" r="2.65"/><circle cx="539" cy="646.02" r="2.65"/><circle cx="539.91" cy="646.34" r="2.65"/><circle cx="540.82" cy="646.85" r="2.65"/><circle cx="541.72" cy="645.86" r="2.65"/><circle cx="542.63" cy="645.51" r="2.65"/><circle cx="543.54" cy="645.26" r="2.65"/><circle cx="544.45" cy="644.18" r="2.65"/><circle cx="545.35" cy="644.59" r="2.65"/><circle cx="546.26" cy="641.82" r="2.65"/><circle cx="547.17" cy="638.69" r="2.65"/><circle cx="548.08" cy="634.35" r="2.65"/><circle cx="548.99" cy="616.58" r="2.65"/><circle cx="549.89" cy="587.08" r="2.65"/><circle cx="550.8" cy="575.11" r="2.65"/><circle cx="551.71" cy="576.53" r="2.65"/><circle cx="552.62" cy="577.98" r="2.65"/><circle cx="553.52" cy="581.94" r="2.65"/><circle cx="554.43" cy="583.49" r="2.65"/><circle cx="555.34" cy="586.47" r="2.65"/><circle cx="556.25" cy="587" r="2.65"/><circle cx="557.16" cy="589.11" r="2.65"/><circle cx="558.06" cy="592.27" r="2.65"/><circle cx="558.97" cy="593.41" r="2.65"/><circle cx="559.88" cy="597.08" r="2.65"/><circle cx="560.79" cy="598.8" r="2.65"/><circle cx="561.69" cy="601.05" r="2.65"/><circle cx="562.6" cy="604.17" r="2.65"/><circle cx="563.51" cy="605.88" r="2.65"/><circle cx="564.42" cy="607.77" r="2.65"/><circle cx="565.33" cy="612.5" r="2.65"/><circle cx="566.23" cy="614.62" r="2.65"/><circle cx="567.14" cy="619.29" r="2.65"/><circle cx="568.05" cy="624.05" r="2.65"/><circle cx="568.96" cy="638.95" r="2.65"/><circle cx="569.86" cy="659.29" r="2.65"/><circle cx="570.77" cy="660.06" r="2.65"/><circle cx="571.68" cy="660.61" r="2.65"/><circle cx="572.59" cy="661.6" r="2.65"/><circle cx="573.5" cy="659.92" r="2.65"/><circle cx="574.4" cy="661.4" r="2.65"/><circle cx="575.31" cy="660.28" r="2.65"/><circle cx="576.22" cy="659.83" r="2.65"/><circle cx="577.13" cy="660.4" r="2.65"/><circle cx="578.03" cy="659.53" r="2.65"/><circle cx="578.94" cy="658.62" r="2.65"/><circle cx="579.85" cy="658.98" r="2.65"/><circle cx="580.76" cy="659.14" r="2.65"/><circle cx="581.67" cy="659.99" r="2.65"/><circle cx="582.57" cy="658.55" r="2.65"/><circle cx="583.48" cy="658.05" r="2.65"/><circle cx="584.39" cy="657.73" r="2.65"/><circle cx="585.3" cy="657.72" r="2.65"/><circle cx="586.2" cy="656.67" r="2.65"/><circle cx="587.11" cy="656.94" r="2.65"/><circle cx="588.02" cy="656.39" r="2.65"/><circle cx="588.93" cy="655.65" r="2.65"/><circle cx="589.83" cy="656.25" r="2.65"/><circle cx="590.74" cy="655.64" r="2.65"/><circle cx="591.65" cy="653.92" r="2.65"/><circle cx="592.56" cy="654.38" r="2.65"/><circle cx="593.47" cy="655.34" r="2.65"/><circle cx="594.37" cy="654.35" r="2.65"/><circle cx="595.28" cy="653.68" r="2.65"/><circle cx="596.19" cy="653" r="2.65"/><circle cx="597.1" cy="653.34" r="2.65"/><circle cx="598" cy="653.44" r="2.65"/><circle cx="598.91" cy="653.27" r="2.65"/><circle cx="599.82" cy="652.18" r="2.65"/><circle cx="600.73" cy="652.09" r="2.65"/><circle cx="601.64" cy="652.28" r="2.65"/><circle cx="602.54" cy="651.8" r="2.65"/><circle cx="603.45" cy="651.64" r="2.65"/><circle cx="604.36" cy="650.69" r="2.65"/><circle cx="605.27" cy="651.22" r="2.65"/><circle cx="606.17" cy="650.25" r="2.65"/><circle cx="607.08" cy="649.74" r="2.65"/><circle cx="607.99" cy="649.67" r="2.65"/><circle cx="608.9" cy="650.14" r="2.65"/><circle cx="609.81" cy="648.59" r="2.65"/><circle cx="610.71" cy="649.48" r="2.65"/><circle cx="611.62" cy="648.55" r="2.65"/><circle cx="612.53" cy="648.95" r="2.65"/><circle cx="613.44" cy="649.25" r="2.65"/><circle cx="614.34" cy="647.83" r="2.65"/><circle cx="615.25" cy="647.52" r="2.65"/><circle cx="616.16" cy="647.46" r="2.65"/><circle cx="617.07" cy="647" r="2.65"/><circle cx="617.98" cy="647.3" r="2.65"/><circle cx="618.88" cy="647.12" r="2.65"/><circle cx="619.79" cy="646.55" r="2.65"/><circle cx="620.7" cy="645.09" r="2.65"/><circle cx="621.61" cy="645.44" r="2.65"/><circle cx="622.51" cy="645.89" r="2.65"/><circle cx="623.42" cy="644.93" r="2.65"/><circle cx="624.33" cy="645.14" r="2.65"/><circle cx="625.24" cy="644.6" r="2.65"/><circle cx="626.15" cy="643.05" r="2.65"/><circle cx="627.05" cy="642.41" r="2.65"/><circle cx="627.96" cy="640.87" r="2.65"/><circle cx="628.87" cy="636.77" r="2.65"/><circle cx="629.78" cy="623.56" r="2.65"/><circle cx="630.68" cy="593.64" r="2.65"/><circle cx="631.59" cy="577.15" r="2.65"/><circle cx="632.5" cy="575.69" r="2.65"/><circle cx="633.41" cy="577.46" r="2.65"/><circle cx="634.32" cy="580.08" r="2.65"/><circle cx="635.22" cy="582.71" r="2.65"/><circle cx="636.13" cy="584.36" r="2.65"/><circle cx="637.04" cy="586.8" r="2.65"/><circle cx="637.95" cy="589.86" r="2.65"/><circle cx="638.85" cy="591.02" r="2.65"/><circle cx="639.76" cy="594.62" r="2.65"/><circle cx="640.67" cy="596.14" r="2.65"/><circle cx="641.58" cy="598.38" r="2.65"/><circle cx="642.49" cy="600.37" r="2.65"/><circle cx="643.39" cy="603.4" r="2.65"/><circle cx="644.3" cy="605.55" r="2.65"/><circle cx="645.21" cy="608.33" r="2.65"/><circle cx="646.12" cy="610.61" r="2.65"/><circle cx="647.02" cy="614.83" r="2.65"/><circle cx="647.93" cy="618.11" r="2.65"/><circle cx="648.84" cy="623.56" r="2.65"/><circle cx="649.75" cy="635.73" r="2.65"/><circle cx="650.66" cy="655.91" r="2.65"/><circle cx="651.56" cy="660.35" r="2.65"/><circle cx="652.47" cy="661.57" r="2.65"/><circle cx="653.38" cy="659.98" r="2.65"/><circle cx="654.29" cy="661.37" r="2.65"/><circle cx="655.19" cy="660.42" r="2.65"/><circle cx="656.1" cy="659.96" r="2.65"/><circle cx="657.01" cy="660.62" r="2.65"/><circle cx="657.92" cy="660.23" r="2.65"/><circle cx="658.83" cy="660" r="2.65"/><circle cx="659.73" cy="659.44" r="2.65"/><circle cx="660.64" cy="659.98" r="2.65"/><circle cx="661.55" cy="659.42" r="2.65"/><circle cx="662.46" cy="658.46" r="2.65"/><circle cx="663.36" cy="657.46" r="2.65"/><circle cx="664.27" cy="657.4" r="2.65"/><circle cx="665.18" cy="656.49" r="2.65"/><circle cx="666.09" cy="656.82" r="2.65"/><circle cx="667" cy="657.25" r="2.65"/><circle cx="667.9" cy="656.74" r="2.65"/><circle cx="668.81" cy="657.57" r="2.65"/><circle cx="669.72" cy="656.66" r="2.65"/></g>
<path d="M501.5,661.03 L501.69,660.97 L501.87,660.91 L502.06,660.86 L502.25,660.8 L502.43,660.74 L502.62,660.68 L502.81,660.62 L502.99,660.56 L503.18,660.49 L503.36,660.43 L503.55,660.37 L503.74,660.31 L503.92,660.25 L504.11,660.19 L504.3,660.13 L504.48,660.07 L504.67,660.01 L504.86,659.94 L505.04,659.88 L505.23,659.82 L505.42,659.76 L505.6,659.7 L505.79,659.64 L505.98,659.58 L506.16,659.52 L506.35,659.45 L506.54,659.39 L506.72,659.33 L506.91,659.27 L507.09,659.21 L507.28,659.15 L507.47,659.09 L507.65,659.03 L507.84,658.96 L508.03,658.9 L508.21,658.84 L508.4,658.78 L508.59,658.72 L508.77,658.66 L508.96,658.6 L509.15,658.53 L509.33,658.47 L509.52,658.41 L509.71,658.35 L509.89,658.29 L510.08,658.23 L510.27,658.16 L510.45,658.1 L510.64,658.04 L510.82,657.98 L511.01,657.92 L511.2,657.86 L511.38,657.8 L511.57,657.73 L511.76,657.67 L511.94,657.61 L512.13,657.55 L512.32,657.49 L512.5,657.43 L512.69,657.36 L512.88,657.3 L513.06,657.24 L513.25,657.18 L513.44,657.12 L513.62,657.06 L513.81,656.99 L514,656.93 L514.18,656.87 L514.37,656.81 L514.55,656.75 L514.74,656.69 L514.93,656.63 L515.11,656.56 L515.3,656.5 L515.49,656.44 L515.67,656.38 L515.86,656.32 L516.05,656.26 L516.23,656.19 L516.42,656.13 L516.61,656.07 L516.79,656.01 L516.98,655.95 L517.17,655.89 L517.35,655.83 L517.54,655.76 L517.72,655.7 L517.91,655.64 L518.1,655.58 L518.28,655.52 L518.47,655.46 L518.66,655.39 L518.84,655.33 L519.03,655.27 L519.22,655.21 L519.4,655.15 L519.59,655.09 L519.78,655.03 L519.96,654.97 L520.15,654.91 L520.34,654.85 L520.52,654.79 L520.71,654.73 L520.9,654.67 L521.08,654.61 L521.27,654.55 L521.45,654.49 L521.64,654.43 L521.83,654.37 L522.01,654.31 L522.2,654.25 L522.39,654.19 L522.57,654.13 L522.76,654.07 L522.95,654.01 L523.13,653.95 L523.32,653.9 L523.51,653.84 L523.69,653.78 L523.88,653.72 L524.07,653.66 L524.25,653.6 L524.44,653.54 L524.63,653.48 L524.81,653.42 L525,653.36 L525.18,653.31 L525.37,653.25 L525.56,653.19 L525.74,653.13 L525.93,653.07 L526.12,653.01 L526.3,652.95 L526.49,652.89 L526.68,652.83 L526.86,652.77 L527.05,652.71 L527.24,652.65 L527.42,652.59 L527.61,652.53 L527.8,652.47 L527.98,652.41 L528.17,652.35 L528.36,652.29 L528.54,652.23 L528.73,652.17 L528.91,652.11 L529.1,652.05 L529.29,651.99 L529.47,651.93 L529.66,651.87 L529.85,651.8 L530.03,651.74 L530.22,651.68 L530.41,651.62 L530.59,651.56 L530.78,651.49 L530.97,651.43 L531.15,651.37 L531.34,651.3 L531.53,651.24 L531.71,651.18 L531.9,651.11 L532.08,651.05 L532.27,650.99 L532.46,650.92 L532.64,650.86 L532.83,650.79 L533.02,650.73 L533.2,650.66 L533.39,650.59 L533.58,650.53 L533.76,650.46 L533.95,650.39 L534.14,650.33 L534.32,650.26 L534.51,650.19 L534.7,650.12 L534.88,650.06 L535.07,649.99 L535.26,649.92 L535.44,649.85 L535.63,649.78 L535.81,649.72 L536,649.65 L536.19,649.59 L536.37,649.52 L536.56,649.45 L536.75,649.38 L536.93,649.32 L537.12,649.24 L537.31,649.17 L537.49,649.1 L537.68,649.02 L537.87,648.95 L538.05,648.87 L538.24,648.78 L538.43,648.7 L538.61,648.61 L538.8,648.52 L538.99,648.42 L539.17,648.32 L539.36,648.22 L539.54,648.12 L539.73,648.01 L539.92,647.9 L540.1,647.78 L540.29,647.66 L540.48,647.53 L540.66,647.4 L540.85,647.26 L541.04,647.11 L541.22,646.95 L541.41,646.78 L541.6,646.6 L541.78,646.41 L541.97,646.21 L542.16,645.98 L542.34,645.73 L542.53,645.46 L542.72,645.17 L542.9,644.85 L543.09,644.5 L543.27,644.14 L543.46,643.75 L543.65,643.33 L543.83,642.9 L544.02,642.44 L544.21,641.95 L544.39,641.44 L544.58,640.91 L544.77,640.36 L544.95,639.74 L545.14,639.06 L545.33,638.3 L545.51,637.46 L545.7,636.55 L545.89,635.57 L546.07,634.51 L546.26,633.38 L546.44,632.17 L546.63,630.88 L546.82,629.5 L547,627.87 L547.19,625.97 L547.38,623.85 L547.56,621.54 L547.75,619.07 L547.94,616.48 L548.12,613.8 L548.31,610.81 L548.5,607.39 L548.68,603.69 L548.87,599.86 L549.06,596.08 L549.24,592.5 L549.43,589.29 L549.62,586.22 L549.8,583.16 L549.99,580.29 L550.17,577.78 L550.36,575.79 L550.55,574.26 L550.73,572.88 L550.92,571.75 L551.11,570.93 L551.29,570.94 L551.48,571.47 L551.67,572 L551.85,572.53 L552.04,573.05 L552.23,573.57 L552.41,574.08 L552.6,574.59 L552.79,575.09 L552.97,575.58 L553.16,576.07 L553.35,576.55 L553.53,577.03 L553.72,577.5 L553.9,577.95 L554.09,578.39 L554.28,578.82 L554.46,579.24 L554.65,579.65 L554.84,580.06 L555.02,580.46 L555.21,580.86 L555.4,581.27 L555.58,581.68 L555.77,582.1 L555.96,582.52 L556.14,582.96 L556.33,583.41 L556.52,583.88 L556.7,584.36 L556.89,584.87 L557.08,585.4 L557.26,585.94 L557.45,586.5 L557.63,587.08 L557.82,587.67 L558.01,588.28 L558.19,588.89 L558.38,589.53 L558.57,590.17 L558.75,590.82 L558.94,591.49 L559.13,592.16 L559.31,592.85 L559.5,593.54 L559.69,594.23 L559.87,594.94 L560.06,595.65 L560.25,596.36 L560.43,597.07 L560.62,597.79 L560.8,598.52 L560.99,599.27 L561.18,600.02 L561.36,600.8 L561.55,601.59 L561.74,602.41 L561.92,603.26 L562.11,604.13 L562.3,605.04 L562.48,605.99 L562.67,606.96 L562.86,607.96 L563.04,608.98 L563.23,610.03 L563.42,611.11 L563.6,612.23 L563.79,613.38 L563.98,614.58 L564.16,615.83 L564.35,617.14 L564.53,618.49 L564.72,619.91 L564.91,621.39 L565.09,622.95 L565.28,624.57 L565.47,626.29 L565.65,628.22 L565.84,630.36 L566.03,632.68 L566.21,635.13 L566.4,637.7 L566.59,640.35 L566.77,643.05 L566.96,645.78 L567.15,648.8 L567.33,652.54 L567.52,656.64 L567.71,660.75 L567.89,664.49 L568.08,667.51 L568.26,669.45 L568.45,669.95 L568.64,669.55 L568.82,668.76 L569.01,667.81 L569.2,666.93 L569.38,666.32 L569.57,666.06 L569.76,665.83 L569.94,665.63 L570.13,665.46 L570.32,665.3 L570.5,665.17 L570.69,665.04 L570.88,664.93 L571.06,664.83 L571.25,664.73 L571.43,664.64 L571.62,664.54 L571.81,664.45 L571.99,664.36 L572.18,664.27 L572.37,664.18 L572.55,664.1 L572.74,664.01 L572.93,663.93 L573.11,663.85 L573.3,663.78 L573.49,663.7 L573.67,663.63 L573.86,663.55 L574.05,663.48 L574.23,663.41 L574.42,663.34 L574.61,663.28 L574.79,663.21 L574.98,663.15 L575.16,663.08 L575.35,663.02 L575.54,662.96 L575.72,662.9 L575.91,662.84 L576.1,662.79 L576.28,662.73 L576.47,662.67 L576.66,662.62 L576.84,662.56 L577.03,662.51 L577.22,662.46 L577.4,662.41 L577.59,662.35 L577.78,662.3 L577.96,662.25 L578.15,662.2 L578.34,662.15 L578.52,662.1 L578.71,662.05 L578.89,662 L579.08,661.95 L579.27,661.91 L579.45,661.86 L579.64,661.81 L579.83,661.76 L580.01,661.71 L580.2,661.66 L580.39,661.61 L580.57,661.56 L580.76,661.51 L580.95,661.46 L581.13,661.41 L581.32,661.36 L581.51,661.31 L581.69,661.26 L581.88,661.21 L582.07,661.15 L582.25,661.1 L582.44,661.04 L582.62,660.99 L582.81,660.93 L583,660.88 L583.18,660.82 L583.37,660.76 L583.56,660.7 L583.74,660.64 L583.93,660.58 L584.12,660.52 L584.3,660.45 L584.49,660.39 L584.68,660.33 L584.86,660.27 L585.05,660.21 L585.24,660.15 L585.42,660.09 L585.61,660.03 L585.79,659.97 L585.98,659.9 L586.17,659.84 L586.35,659.78 L586.54,659.72 L586.73,659.66 L586.91,659.6 L587.1,659.54 L587.29,659.48 L587.47,659.41 L587.66,659.35 L587.85,659.29 L588.03,659.23 L588.22,659.17 L588.41,659.11 L588.59,659.05 L588.78,658.98 L588.97,658.92 L589.15,658.86 L589.34,658.8 L589.52,658.74 L589.71,658.68 L589.9,658.62 L590.08,658.55 L590.27,658.49 L590.46,658.43 L590.64,658.37 L590.83,658.31 L591.02,658.25 L591.2,658.18 L591.39,658.12 L591.58,658.06 L591.76,658 L591.95,657.94 L592.14,657.88 L592.32,657.82 L592.51,657.75 L592.7,657.69 L592.88,657.63 L593.07,657.57 L593.25,657.51 L593.44,657.45 L593.63,657.38 L593.81,657.32 L594,657.26 L594.19,657.2 L594.37,657.14 L594.56,657.08 L594.75,657.02 L594.93,656.95 L595.12,656.89 L595.31,656.83 L595.49,656.77 L595.68,656.71 L595.87,656.65 L596.05,656.58 L596.24,656.52 L596.43,656.46 L596.61,656.4 L596.8,656.34 L596.98,656.28 L597.17,656.21 L597.36,656.15 L597.54,656.09 L597.73,656.03 L597.92,655.97 L598.1,655.91 L598.29,655.85 L598.48,655.78 L598.66,655.72 L598.85,655.66 L599.04,655.6 L599.22,655.54 L599.41,655.48 L599.6,655.42 L599.78,655.35 L599.97,655.29 L600.15,655.23 L600.34,655.17 L600.53,655.11 L600.71,655.05 L600.9,654.99 L601.09,654.93 L601.27,654.87 L601.46,654.81 L601.65,654.75 L601.83,654.69 L602.02,654.63 L602.21,654.57 L602.39,654.51 L602.58,654.45 L602.77,654.39 L602.95,654.33 L603.14,654.27 L603.33,654.21 L603.51,654.15 L603.7,654.09 L603.88,654.03 L604.07,653.97 L604.26,653.91 L604.44,653.86 L604.63,653.8 L604.82,653.74 L605,653.68 L605.19,653.62 L605.38,653.56 L605.56,653.5 L605.75,653.44 L605.94,653.38 L606.12,653.32 L606.31,653.27 L606.5,653.21 L606.68,653.15 L606.87,653.09 L607.06,653.03 L607.24,652.97 L607.43,652.91 L607.61,652.85 L607.8,652.79 L607.99,652.73 L608.17,652.67 L608.36,652.61 L608.55,652.55 L608.73,652.49 L608.92,652.43 L609.11,652.37 L609.29,652.31 L609.48,652.25 L609.67,652.19 L609.85,652.13 L610.04,652.07 L610.23,652.01 L610.41,651.95 L610.6,651.89 L610.79,651.82 L610.97,651.76 L611.16,651.7 L611.34,651.64 L611.53,651.58 L611.72,651.51 L611.9,651.45 L612.09,651.39 L612.28,651.33 L612.46,651.26 L612.65,651.2 L612.84,651.13 L613.02,651.07 L613.21,651.01 L613.4,650.94 L613.58,650.88 L613.77,650.81 L613.96,650.75 L614.14,650.68 L614.33,650.62 L614.51,650.55 L614.7,650.48 L614.89,650.42 L615.07,650.35 L615.26,650.28 L615.45,650.21 L615.63,650.15 L615.82,650.08 L616.01,650.01 L616.19,649.94 L616.38,649.87 L616.57,649.81 L616.75,649.74 L616.94,649.67 L617.13,649.61 L617.31,649.54 L617.5,649.47 L617.69,649.41 L617.87,649.34 L618.06,649.27 L618.24,649.2 L618.43,649.12 L618.62,649.05 L618.8,648.97 L618.99,648.89 L619.18,648.81 L619.36,648.73 L619.55,648.64 L619.74,648.55 L619.92,648.45 L620.11,648.36 L620.3,648.26 L620.48,648.15 L620.67,648.05 L620.86,647.94 L621.04,647.82 L621.23,647.7 L621.42,647.58 L621.6,647.44 L621.79,647.3 L621.97,647.16 L622.16,647 L622.35,646.84 L622.53,646.66 L622.72,646.47 L622.91,646.28 L623.09,646.06 L623.28,645.82 L623.47,645.55 L623.65,645.27 L623.84,644.96 L624.03,644.62 L624.21,644.26 L624.4,643.88 L624.59,643.47 L624.77,643.04 L624.96,642.59 L625.15,642.11 L625.33,641.62 L625.52,641.09 L625.7,640.55 L625.89,639.96 L626.08,639.29 L626.26,638.56 L626.45,637.75 L626.64,636.86 L626.82,635.91 L627.01,634.87 L627.2,633.76 L627.38,632.58 L627.57,631.32 L627.76,629.98 L627.94,628.44 L628.13,626.63 L628.32,624.58 L628.5,622.33 L628.69,619.9 L628.87,617.35 L629.06,614.7 L629.25,611.86 L629.43,608.56 L629.62,604.94 L629.81,601.13 L629.99,597.32 L630.18,593.66 L630.37,590.3 L630.55,587.24 L630.74,584.16 L630.93,581.21 L631.11,578.56 L631.3,576.38 L631.49,574.75 L631.67,573.32 L631.86,572.09 L632.05,571.16 L632.23,570.76 L632.42,571.3 L632.6,571.83 L632.79,572.36 L632.98,572.88 L633.16,573.4 L633.35,573.91 L633.54,574.42 L633.72,574.92 L633.91,575.42 L634.1,575.91 L634.28,576.4 L634.47,576.87 L634.66,577.35 L634.84,577.8 L635.03,578.25 L635.22,578.68 L635.4,579.1 L635.59,579.51 L635.78,579.92 L635.96,580.33 L636.15,580.73 L636.33,581.13 L636.52,581.54 L636.71,581.96 L636.89,582.38 L637.08,582.81 L637.27,583.26 L637.45,583.72 L637.64,584.2 L637.83,584.7 L638.01,585.22 L638.2,585.76 L638.39,586.31 L638.57,586.89 L638.76,587.47 L638.95,588.07 L639.13,588.69 L639.32,589.32 L639.51,589.96 L639.69,590.61 L639.88,591.27 L640.06,591.94 L640.25,592.62 L640.44,593.31 L640.62,594 L640.81,594.7 L641,595.41 L641.18,596.12 L641.37,596.83 L641.56,597.55 L641.74,598.28 L641.93,599.02 L642.12,599.77 L642.3,600.54 L642.49,601.33 L642.68,602.14 L642.86,602.98 L643.05,603.84 L643.23,604.74 L643.42,605.67 L643.61,606.64 L643.79,607.63 L643.98,608.64 L644.17,609.68 L644.35,610.75 L644.54,611.85 L644.73,612.99 L644.91,614.18 L645.1,615.41 L645.29,616.7 L645.47,618.04 L645.66,619.43 L645.85,620.9 L646.03,622.42 L646.22,624.02 L646.41,625.7 L646.59,627.56 L646.78,629.63 L646.96,631.89 L647.15,634.3 L647.34,636.84 L647.52,639.46 L647.71,642.15 L647.9,644.87 L648.08,647.7 L648.27,651.24 L648.46,655.26 L648.64,659.41 L648.83,663.31 L649.02,666.61 L649.2,668.95 L649.39,669.95 L649.58,669.74 L649.76,669.05 L649.95,668.13 L650.14,667.2 L650.32,666.48 L650.51,666.14 L650.69,665.9 L650.88,665.69 L651.07,665.51 L651.25,665.35 L651.44,665.21 L651.63,665.08 L651.81,664.97 L652,664.86 L652.19,664.76 L652.37,664.67 L652.56,664.57 L652.75,664.48 L652.93,664.39 L653.12,664.3 L653.31,664.21 L653.49,664.12 L653.68,664.04 L653.87,663.96 L654.05,663.88 L654.24,663.8 L654.42,663.73 L654.61,663.65 L654.8,663.58 L654.98,663.51 L655.17,663.44 L655.36,663.37 L655.54,663.3 L655.73,663.23 L655.92,663.17 L656.1,663.11 L656.29,663.04 L656.48,662.98 L656.66,662.92 L656.85,662.86 L657.04,662.81 L657.22,662.75 L657.41,662.69 L657.59,662.64 L657.78,662.58 L657.97,662.53 L658.15,662.48 L658.34,662.42 L658.53,662.37 L658.71,662.32 L658.9,662.27 L659.09,662.22 L659.27,662.17 L659.46,662.12 L659.65,662.07 L659.83,662.02 L660.02,661.97 L660.21,661.92 L660.39,661.87 L660.58,661.82 L660.77,661.78 L660.95,661.73 L661.14,661.68 L661.32,661.63 L661.51,661.58 L661.7,661.53 L661.88,661.48 L662.07,661.43 L662.26,661.38 L662.44,661.33 L662.63,661.28 L662.82,661.22 L663,661.17 L663.19,661.12 L663.38,661.06 L663.56,661.01 L663.75,660.95 L663.94,660.89 L664.12,660.84 L664.31,660.78 L664.5,660.72 L664.68,660.66 L664.87,660.6 L665.05,660.54 L665.24,660.47 L665.43,660.41 L665.61,660.35 L665.8,660.29 L665.99,660.23 L666.17,660.17 L666.36,660.11 L666.55,660.05 L666.73,659.99 L666.92,659.92 L667.11,659.86 L667.29,659.8 L667.48,659.74 L667.67,659.68 L667.85,659.62 L668.04,659.56 L668.23,659.5 L668.41,659.43 L668.6,659.37 L668.78,659.31 L668.97,659.25 L669.16,659.19" stroke="#ea2f72" stroke-width="1.45" stroke-linejoin="round"/>
<path d="M501.5,553.5 V681.5 H670" stroke="#9a9a9a" stroke-width="1"/>
<path d="M501.5,669.5 h2 M501.5,611.5 h2 M501.5,553.5 h2 M501.5,681.5 v-2 M557.67,681.5 v-2 M613.83,681.5 v-2 M670,681.5 v-2" stroke="#8c8c8c" stroke-width="0.8"/>
<circle cx="517.4" cy="544.4" r="2" stroke="#4a90ee" stroke-width="0.75" fill="#fff"/>
<path d="M508.4,558.7 H526.2" stroke="#ea2f72" stroke-width="1.1"/>
</g>
<g font-family="Liberation Sans, sans-serif" fill="#262626" stroke="#262626" stroke-width="0.2" font-size="12.7">
<text x="499.1" y="674.2" text-anchor="end">50</text>
<text x="499.1" y="616.2" text-anchor="end">100</text>
<text x="499.1" y="558.2" text-anchor="end">150</text>
<text x="501.5" y="697.2" text-anchor="middle">0</text>
<text x="557.67" y="697.2" text-anchor="middle">0.1</text>
<text x="613.83" y="697.2" text-anchor="middle">0.2</text>
<text x="670" y="697.2" text-anchor="middle">0.3</text>
<text x="585.75" y="713.8" text-anchor="middle" font-size="14.4" textLength="55" lengthAdjust="spacing">Time (s)</text>
<text x="528.6" y="548.9" font-size="12.2" fill="#000">Measurements</text>
<text x="528.6" y="563.5" font-size="12.2" fill="#000">Simulations</text>
</g>
</svg>
</body></html>
